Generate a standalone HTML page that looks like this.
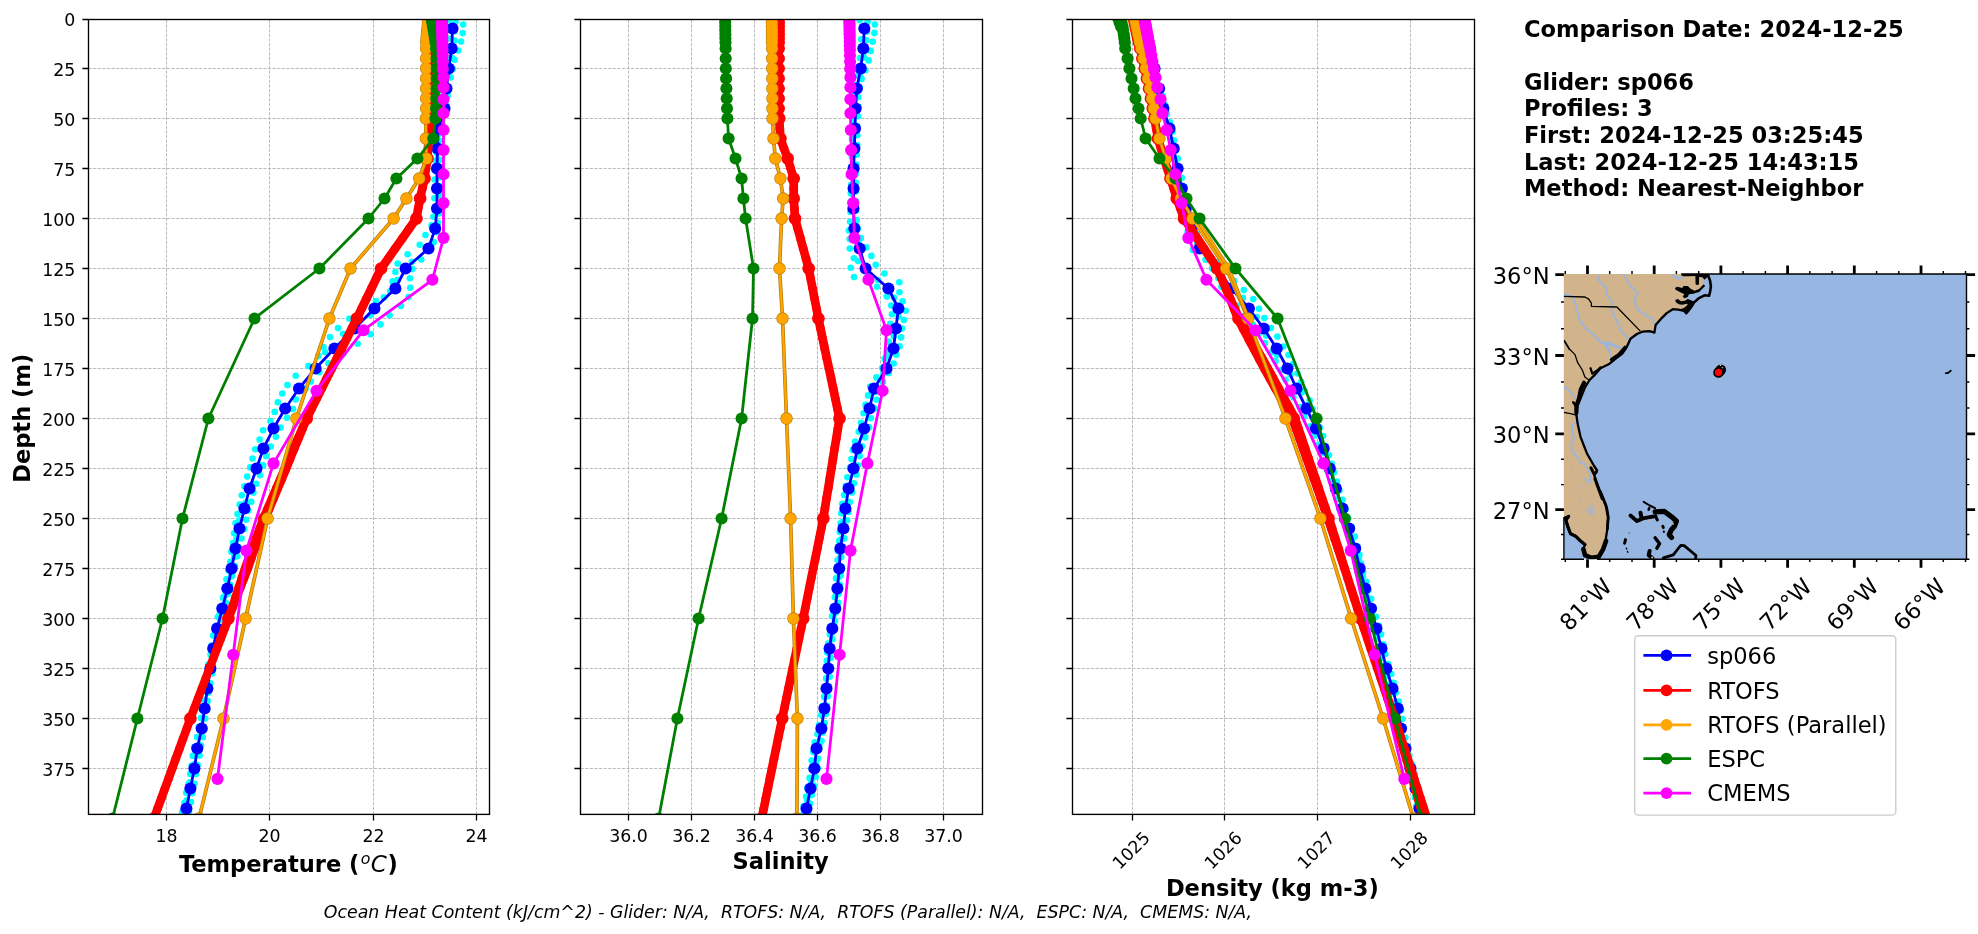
<!DOCTYPE html>
<html><head><meta charset="utf-8"><title>Glider comparison</title><style>html,body{margin:0;padding:0;background:#fff}svg{display:block;will-change:transform}</style></head><body>
<svg width="1978" height="934" viewBox="0 0 1978 934" font-family="'DejaVu Sans', 'Liberation Sans', sans-serif">
<rect width="1978" height="934" fill="#fff"/>
<defs>
<clipPath id="c0"><rect x="88.5" y="19.5" width="401.0" height="794.9"/></clipPath>
<clipPath id="c1"><rect x="580.5" y="19.5" width="402.0" height="794.9"/></clipPath>
<clipPath id="c2"><rect x="1072.5" y="19.5" width="402.0" height="794.9"/></clipPath>
</defs>
<g clip-path="url(#c0)">
<path d="M166.5 814.4V19.5M269.5 814.4V19.5M373.5 814.4V19.5M476.5 814.4V19.5M88.5 68.5H489.5M88.5 118.5H489.5M88.5 168.5H489.5M88.5 218.5H489.5M88.5 268.5H489.5M88.5 318.5H489.5M88.5 368.5H489.5M88.5 418.5H489.5M88.5 468.5H489.5M88.5 518.5H489.5M88.5 568.5H489.5M88.5 618.5H489.5M88.5 668.5H489.5M88.5 718.5H489.5M88.5 768.5H489.5" stroke="#b0b0b0" stroke-width="0.87" stroke-dasharray="3.21 1.39" fill="none"/>
<g fill="#00ffff"><circle cx="463.2" cy="24.5" r="3.3"/><circle cx="462.7" cy="33.1" r="3.3"/><circle cx="461.1" cy="41.6" r="3.3"/><circle cx="458.2" cy="50.6" r="3.3"/><circle cx="454.6" cy="59.8" r="3.3"/><circle cx="452.9" cy="68.9" r="3.3"/><circle cx="450.7" cy="77.5" r="3.3"/><circle cx="448.0" cy="87.2" r="3.3"/><circle cx="447.7" cy="95.9" r="3.3"/><circle cx="446.7" cy="105.9" r="3.3"/><circle cx="444.8" cy="114.9" r="3.3"/><circle cx="442.1" cy="123.4" r="3.3"/><circle cx="439.7" cy="132.2" r="3.3"/><circle cx="439.6" cy="140.8" r="3.3"/><circle cx="439.2" cy="150.5" r="3.3"/><circle cx="439.5" cy="159.9" r="3.3"/><circle cx="439.3" cy="168.9" r="3.3"/><circle cx="438.8" cy="177.4" r="3.3"/><circle cx="439.5" cy="186.1" r="3.3"/><circle cx="439.2" cy="195.2" r="3.3"/><circle cx="439.4" cy="204.5" r="3.3"/><circle cx="439.3" cy="213.4" r="3.3"/><circle cx="438.0" cy="222.9" r="3.3"/><circle cx="436.7" cy="232.2" r="3.3"/><circle cx="433.8" cy="242.0" r="3.3"/><circle cx="429.6" cy="250.9" r="3.3"/><circle cx="421.2" cy="259.5" r="3.3"/><circle cx="412.3" cy="269.1" r="3.3"/><circle cx="409.9" cy="278.3" r="3.3"/><circle cx="410.2" cy="287.7" r="3.3"/><circle cx="408.5" cy="297.1" r="3.3"/><circle cx="401.0" cy="306.0" r="3.3"/><circle cx="389.6" cy="315.3" r="3.3"/><circle cx="380.5" cy="324.4" r="3.3"/><circle cx="370.7" cy="334.3" r="3.3"/><circle cx="357.7" cy="343.8" r="3.3"/><circle cx="343.6" cy="353.3" r="3.3"/><circle cx="328.4" cy="363.3" r="3.3"/><circle cx="319.3" cy="372.2" r="3.3"/><circle cx="310.9" cy="381.6" r="3.3"/><circle cx="302.6" cy="390.8" r="3.3"/><circle cx="295.7" cy="399.4" r="3.3"/><circle cx="293.0" cy="409.0" r="3.3"/><circle cx="287.1" cy="417.8" r="3.3"/><circle cx="280.6" cy="427.6" r="3.3"/><circle cx="275.9" cy="436.7" r="3.3"/><circle cx="270.8" cy="446.5" r="3.3"/><circle cx="266.3" cy="456.3" r="3.3"/><circle cx="263.1" cy="465.4" r="3.3"/><circle cx="260.1" cy="475.2" r="3.3"/><circle cx="256.1" cy="483.8" r="3.3"/><circle cx="253.4" cy="492.6" r="3.3"/><circle cx="251.2" cy="501.8" r="3.3"/><circle cx="248.2" cy="510.6" r="3.3"/><circle cx="246.2" cy="519.7" r="3.3"/><circle cx="244.3" cy="529.0" r="3.3"/><circle cx="241.5" cy="538.5" r="3.3"/><circle cx="239.3" cy="547.9" r="3.3"/><circle cx="237.4" cy="556.3" r="3.3"/><circle cx="235.0" cy="566.0" r="3.3"/><circle cx="232.4" cy="575.7" r="3.3"/><circle cx="230.2" cy="584.7" r="3.3"/><circle cx="227.9" cy="594.1" r="3.3"/><circle cx="225.8" cy="602.6" r="3.3"/><circle cx="223.7" cy="611.3" r="3.3"/><circle cx="221.2" cy="619.8" r="3.3"/><circle cx="219.0" cy="628.4" r="3.3"/><circle cx="217.2" cy="637.4" r="3.3"/><circle cx="215.8" cy="647.2" r="3.3"/><circle cx="214.2" cy="655.8" r="3.3"/><circle cx="213.0" cy="664.8" r="3.3"/><circle cx="212.3" cy="673.4" r="3.3"/><circle cx="210.4" cy="683.4" r="3.3"/><circle cx="208.6" cy="692.6" r="3.3"/><circle cx="207.7" cy="701.1" r="3.3"/><circle cx="207.0" cy="709.9" r="3.3"/><circle cx="205.1" cy="718.6" r="3.3"/><circle cx="204.5" cy="728.5" r="3.3"/><circle cx="202.8" cy="737.2" r="3.3"/><circle cx="201.0" cy="745.6" r="3.3"/><circle cx="199.6" cy="755.6" r="3.3"/><circle cx="197.7" cy="765.1" r="3.3"/><circle cx="195.9" cy="774.1" r="3.3"/><circle cx="194.4" cy="783.7" r="3.3"/><circle cx="192.3" cy="793.3" r="3.3"/><circle cx="191.0" cy="802.1" r="3.3"/><circle cx="189.0" cy="812.1" r="3.3"/><circle cx="455.4" cy="21.7" r="3.3"/><circle cx="454.6" cy="31.3" r="3.3"/><circle cx="454.6" cy="40.5" r="3.3"/><circle cx="453.4" cy="48.9" r="3.3"/><circle cx="451.9" cy="57.8" r="3.3"/><circle cx="450.8" cy="67.3" r="3.3"/><circle cx="448.6" cy="76.4" r="3.3"/><circle cx="445.2" cy="86.4" r="3.3"/><circle cx="443.5" cy="95.4" r="3.3"/><circle cx="442.6" cy="104.1" r="3.3"/><circle cx="441.1" cy="112.9" r="3.3"/><circle cx="438.2" cy="122.7" r="3.3"/><circle cx="436.1" cy="131.9" r="3.3"/><circle cx="435.1" cy="141.5" r="3.3"/><circle cx="435.6" cy="151.0" r="3.3"/><circle cx="435.2" cy="160.6" r="3.3"/><circle cx="434.4" cy="169.8" r="3.3"/><circle cx="434.5" cy="179.5" r="3.3"/><circle cx="435.1" cy="189.2" r="3.3"/><circle cx="434.5" cy="198.2" r="3.3"/><circle cx="434.8" cy="208.1" r="3.3"/><circle cx="433.4" cy="216.8" r="3.3"/><circle cx="431.5" cy="225.4" r="3.3"/><circle cx="425.5" cy="235.1" r="3.3"/><circle cx="419.7" cy="244.8" r="3.3"/><circle cx="407.6" cy="254.3" r="3.3"/><circle cx="397.7" cy="263.6" r="3.3"/><circle cx="395.4" cy="272.0" r="3.3"/><circle cx="392.6" cy="281.4" r="3.3"/><circle cx="390.2" cy="291.3" r="3.3"/><circle cx="375.9" cy="301.1" r="3.3"/><circle cx="360.4" cy="309.9" r="3.3"/><circle cx="349.3" cy="318.7" r="3.3"/><circle cx="338.0" cy="328.1" r="3.3"/><circle cx="330.0" cy="337.1" r="3.3"/><circle cx="323.5" cy="347.0" r="3.3"/><circle cx="318.3" cy="356.1" r="3.3"/><circle cx="308.4" cy="366.0" r="3.3"/><circle cx="295.7" cy="375.8" r="3.3"/><circle cx="287.4" cy="385.1" r="3.3"/><circle cx="282.3" cy="393.5" r="3.3"/><circle cx="277.8" cy="402.2" r="3.3"/><circle cx="274.7" cy="411.9" r="3.3"/><circle cx="270.4" cy="421.0" r="3.3"/><circle cx="263.1" cy="430.3" r="3.3"/><circle cx="259.6" cy="439.6" r="3.3"/><circle cx="255.3" cy="449.2" r="3.3"/><circle cx="252.5" cy="458.5" r="3.3"/><circle cx="250.2" cy="467.4" r="3.3"/><circle cx="247.1" cy="476.6" r="3.3"/><circle cx="244.4" cy="486.2" r="3.3"/><circle cx="241.8" cy="495.3" r="3.3"/><circle cx="239.7" cy="504.5" r="3.3"/><circle cx="237.5" cy="514.0" r="3.3"/><circle cx="235.6" cy="523.3" r="3.3"/><circle cx="234.1" cy="533.2" r="3.3"/><circle cx="233.0" cy="543.0" r="3.3"/><circle cx="231.4" cy="551.8" r="3.3"/><circle cx="230.4" cy="561.7" r="3.3"/><circle cx="228.4" cy="570.3" r="3.3"/><circle cx="226.5" cy="579.4" r="3.3"/><circle cx="224.7" cy="588.2" r="3.3"/><circle cx="223.0" cy="597.7" r="3.3"/><circle cx="219.9" cy="607.5" r="3.3"/><circle cx="217.9" cy="617.1" r="3.3"/><circle cx="215.9" cy="625.7" r="3.3"/><circle cx="213.1" cy="635.6" r="3.3"/><circle cx="211.4" cy="645.6" r="3.3"/><circle cx="210.5" cy="654.7" r="3.3"/><circle cx="208.4" cy="664.5" r="3.3"/><circle cx="207.4" cy="673.6" r="3.3"/><circle cx="205.8" cy="682.5" r="3.3"/><circle cx="205.0" cy="691.4" r="3.3"/><circle cx="203.6" cy="699.8" r="3.3"/><circle cx="201.8" cy="709.0" r="3.3"/><circle cx="200.9" cy="717.9" r="3.3"/><circle cx="198.8" cy="727.1" r="3.3"/><circle cx="197.1" cy="737.1" r="3.3"/><circle cx="194.2" cy="747.0" r="3.3"/><circle cx="192.8" cy="755.9" r="3.3"/><circle cx="191.6" cy="765.5" r="3.3"/><circle cx="190.2" cy="774.1" r="3.3"/><circle cx="188.6" cy="784.0" r="3.3"/><circle cx="186.2" cy="792.8" r="3.3"/><circle cx="184.6" cy="802.7" r="3.3"/><circle cx="182.2" cy="812.2" r="3.3"/><circle cx="448.7" cy="20.1" r="3.3"/><circle cx="448.7" cy="38.5" r="3.3"/><circle cx="448.1" cy="58.0" r="3.3"/><circle cx="445.7" cy="77.2" r="3.3"/><circle cx="444.8" cy="96.5" r="3.3"/><circle cx="442.7" cy="115.8" r="3.3"/><circle cx="438.9" cy="134.1" r="3.3"/><circle cx="436.9" cy="153.6" r="3.3"/><circle cx="436.2" cy="171.4" r="3.3"/><circle cx="436.2" cy="189.5" r="3.3"/><circle cx="437.3" cy="207.4" r="3.3"/><circle cx="437.0" cy="225.4" r="3.3"/><circle cx="432.0" cy="243.6" r="3.3"/><circle cx="411.9" cy="261.8" r="3.3"/><circle cx="397.7" cy="279.8" r="3.3"/><circle cx="383.9" cy="297.4" r="3.3"/><circle cx="370.5" cy="315.0" r="3.3"/><circle cx="343.1" cy="333.7" r="3.3"/><circle cx="325.2" cy="352.3" r="3.3"/><circle cx="316.3" cy="370.1" r="3.3"/><circle cx="305.6" cy="388.6" r="3.3"/><circle cx="287.4" cy="407.8" r="3.3"/><circle cx="273.1" cy="426.5" r="3.3"/><circle cx="262.9" cy="446.0" r="3.3"/><circle cx="259.5" cy="465.3" r="3.3"/><circle cx="253.5" cy="484.2" r="3.3"/><circle cx="245.7" cy="502.5" r="3.3"/><circle cx="239.3" cy="520.3" r="3.3"/><circle cx="236.4" cy="539.4" r="3.3"/><circle cx="234.2" cy="557.3" r="3.3"/><circle cx="231.1" cy="576.6" r="3.3"/><circle cx="225.0" cy="595.5" r="3.3"/><circle cx="219.8" cy="613.6" r="3.3"/><circle cx="215.8" cy="632.1" r="3.3"/><circle cx="213.5" cy="650.6" r="3.3"/><circle cx="211.2" cy="670.2" r="3.3"/><circle cx="206.4" cy="688.9" r="3.3"/><circle cx="203.6" cy="708.4" r="3.3"/><circle cx="201.7" cy="726.7" r="3.3"/><circle cx="199.2" cy="745.1" r="3.3"/><circle cx="195.0" cy="763.7" r="3.3"/><circle cx="189.9" cy="782.3" r="3.3"/><circle cx="186.8" cy="800.4" r="3.3"/></g>
<polyline points="452.5,28.5 451.7,48.5 448.8,68.5 446.5,88.5 444.5,108.5 438.2,128.5 437.5,148.5 437.0,168.5 437.0,188.5 437.0,208.5 435.2,228.5 428.5,248.5 405.6,268.5 395.4,288.5 374.4,308.5 354.7,328.5 334.4,348.5 315.6,368.5 299.0,388.5 285.2,408.5 273.5,428.5 263.4,448.5 256.5,468.5 249.5,488.5 244.4,508.5 239.5,528.5 235.5,548.5 231.6,568.5 227.4,588.5 222.3,608.5 217.1,628.5 213.2,648.5 210.4,668.5 207.4,688.5 204.6,708.5 201.7,728.5 197.3,748.5 194.4,768.5 190.4,788.5 186.4,808.5" fill="none" stroke="#0000ff" stroke-width="2.8" stroke-linejoin="round"/>
<g fill="#0000ff"><circle cx="452.5" cy="28.5" r="6.05"/><circle cx="451.7" cy="48.5" r="6.05"/><circle cx="448.8" cy="68.5" r="6.05"/><circle cx="446.5" cy="88.5" r="6.05"/><circle cx="444.5" cy="108.5" r="6.05"/><circle cx="438.2" cy="128.5" r="6.05"/><circle cx="437.5" cy="148.5" r="6.05"/><circle cx="437.0" cy="168.5" r="6.05"/><circle cx="437.0" cy="188.5" r="6.05"/><circle cx="437.0" cy="208.5" r="6.05"/><circle cx="435.2" cy="228.5" r="6.05"/><circle cx="428.5" cy="248.5" r="6.05"/><circle cx="405.6" cy="268.5" r="6.05"/><circle cx="395.4" cy="288.5" r="6.05"/><circle cx="374.4" cy="308.5" r="6.05"/><circle cx="354.7" cy="328.5" r="6.05"/><circle cx="334.4" cy="348.5" r="6.05"/><circle cx="315.6" cy="368.5" r="6.05"/><circle cx="299.0" cy="388.5" r="6.05"/><circle cx="285.2" cy="408.5" r="6.05"/><circle cx="273.5" cy="428.5" r="6.05"/><circle cx="263.4" cy="448.5" r="6.05"/><circle cx="256.5" cy="468.5" r="6.05"/><circle cx="249.5" cy="488.5" r="6.05"/><circle cx="244.4" cy="508.5" r="6.05"/><circle cx="239.5" cy="528.5" r="6.05"/><circle cx="235.5" cy="548.5" r="6.05"/><circle cx="231.6" cy="568.5" r="6.05"/><circle cx="227.4" cy="588.5" r="6.05"/><circle cx="222.3" cy="608.5" r="6.05"/><circle cx="217.1" cy="628.5" r="6.05"/><circle cx="213.2" cy="648.5" r="6.05"/><circle cx="210.4" cy="668.5" r="6.05"/><circle cx="207.4" cy="688.5" r="6.05"/><circle cx="204.6" cy="708.5" r="6.05"/><circle cx="201.7" cy="728.5" r="6.05"/><circle cx="197.3" cy="748.5" r="6.05"/><circle cx="194.4" cy="768.5" r="6.05"/><circle cx="190.4" cy="788.5" r="6.05"/><circle cx="186.4" cy="808.5" r="6.05"/></g>
<g fill="none" stroke="#ff0000" stroke-linecap="round"><path d="M428.9 18.5L428.9 28.5" stroke-width="8.70"/><path d="M428.9 28.5L428.9 38.5" stroke-width="8.70"/><path d="M428.9 38.5L428.9 48.5" stroke-width="8.70"/><path d="M428.9 48.5L428.9 58.5" stroke-width="8.70"/><path d="M428.9 58.5L428.9 68.5" stroke-width="8.70"/><path d="M428.9 68.5L428.9 78.5" stroke-width="8.70"/><path d="M428.9 78.5L428.9 88.5" stroke-width="8.70"/><path d="M428.9 88.5L428.9 98.5" stroke-width="8.70"/><path d="M428.9 98.5L428.9 108.5" stroke-width="8.70"/><path d="M428.9 108.5L428.9 118.5" stroke-width="8.70"/><path d="M428.9 118.5L428.8 128.5" stroke-width="8.70"/><path d="M428.8 128.5L428.6 138.5" stroke-width="8.70"/><path d="M428.6 138.5L428.0 148.5" stroke-width="8.70"/><path d="M428.0 148.5L427.4 158.5" stroke-width="8.70"/><path d="M427.4 158.5L425.9 168.5" stroke-width="8.70"/><path d="M425.9 168.5L424.5 178.5" stroke-width="8.70"/><path d="M424.5 178.5L422.3 188.5" stroke-width="8.70"/><path d="M422.3 188.5L420.1 198.5" stroke-width="8.70"/><path d="M420.1 198.5L418.2 208.5" stroke-width="8.70"/><path d="M418.2 208.5L416.4 218.5" stroke-width="8.70"/><path d="M416.4 218.5L409.3 228.5" stroke-width="8.70"/><path d="M409.3 228.5L402.3 238.5" stroke-width="8.70"/><path d="M402.3 238.5L395.2 248.5" stroke-width="8.70"/><path d="M395.2 248.5L388.2 258.5" stroke-width="8.70"/><path d="M388.2 258.5L381.1 268.5" stroke-width="8.70"/><path d="M381.1 268.5L376.2 278.5" stroke-width="8.70"/><path d="M376.2 278.5L371.4 288.5" stroke-width="8.70"/><path d="M371.4 288.5L366.5 298.5" stroke-width="8.70"/><path d="M366.5 298.5L361.7 308.5" stroke-width="8.70"/><path d="M361.7 308.5L356.8 318.5" stroke-width="8.70"/><path d="M356.8 318.5L351.8 328.5" stroke-width="8.70"/><path d="M351.8 328.5L346.8 338.5" stroke-width="8.70"/><path d="M346.8 338.5L341.8 348.5" stroke-width="8.70"/><path d="M341.8 348.5L336.8 358.5" stroke-width="8.70"/><path d="M336.8 358.5L331.8 368.5" stroke-width="8.70"/><path d="M331.8 368.5L326.7 378.5" stroke-width="8.70"/><path d="M326.7 378.5L321.7 388.5" stroke-width="8.70"/><path d="M321.7 388.5L316.7 398.5" stroke-width="8.70"/><path d="M316.7 398.5L311.7 408.5" stroke-width="8.70"/><path d="M311.7 408.5L306.7 418.5" stroke-width="8.70"/><path d="M306.7 418.5L302.5 428.5" stroke-width="8.81"/><path d="M302.5 428.5L298.2 438.5" stroke-width="9.03"/><path d="M298.2 438.5L294.0 448.5" stroke-width="9.25"/><path d="M294.0 448.5L289.7 458.5" stroke-width="9.47"/><path d="M289.7 458.5L285.5 468.5" stroke-width="9.69"/><path d="M285.5 468.5L281.3 478.5" stroke-width="9.84"/><path d="M281.3 478.5L277.0 488.5" stroke-width="9.92"/><path d="M277.0 488.5L272.8 498.5" stroke-width="10.00"/><path d="M272.8 498.5L268.5 508.5" stroke-width="10.08"/><path d="M268.5 508.5L264.3 518.5" stroke-width="10.16"/><path d="M264.3 518.5L260.7 528.5" stroke-width="10.32"/><path d="M260.7 528.5L257.1 538.5" stroke-width="10.56"/><path d="M257.1 538.5L253.5 548.5" stroke-width="10.80"/><path d="M253.5 548.5L249.9 558.5" stroke-width="11.04"/><path d="M249.9 558.5L246.4 568.5" stroke-width="11.28"/><path d="M246.4 568.5L242.8 578.5" stroke-width="11.05"/><path d="M242.8 578.5L239.2 588.5" stroke-width="10.35"/><path d="M239.2 588.5L235.6 598.5" stroke-width="9.65"/><path d="M235.6 598.5L232.0 608.5" stroke-width="9.20"/><path d="M232.0 608.5L228.4 618.5" stroke-width="9.00"/><path d="M228.4 618.5L224.6 628.5" stroke-width="8.85"/><path d="M224.6 628.5L220.8 638.5" stroke-width="8.75"/><path d="M220.8 638.5L217.0 648.5" stroke-width="8.65"/><path d="M217.0 648.5L213.2 658.5" stroke-width="8.55"/><path d="M213.2 658.5L209.4 668.5" stroke-width="8.45"/><path d="M209.4 668.5L205.6 678.5" stroke-width="8.35"/><path d="M205.6 678.5L201.8 688.5" stroke-width="8.33"/><path d="M201.8 688.5L198.0 698.5" stroke-width="8.38"/><path d="M198.0 698.5L194.2 708.5" stroke-width="8.43"/><path d="M194.2 708.5L190.4 718.5" stroke-width="8.47"/><path d="M190.4 718.5L186.8 728.5" stroke-width="8.53"/><path d="M186.8 728.5L183.1 738.5" stroke-width="8.57"/><path d="M183.1 738.5L179.5 748.5" stroke-width="8.61"/><path d="M179.5 748.5L175.8 758.5" stroke-width="8.62"/><path d="M175.8 758.5L172.2 768.5" stroke-width="8.63"/><path d="M172.2 768.5L168.6 778.5" stroke-width="8.64"/><path d="M168.6 778.5L164.9 788.5" stroke-width="8.66"/><path d="M164.9 788.5L161.3 798.5" stroke-width="8.67"/><path d="M161.3 798.5L157.6 808.5" stroke-width="8.68"/><path d="M157.6 808.5L154.0 818.5" stroke-width="8.69"/></g>
<g fill="#ff0000"><circle cx="428.9" cy="18.5" r="6.35"/><circle cx="428.9" cy="22.5" r="6.35"/><circle cx="428.9" cy="26.5" r="6.35"/><circle cx="428.9" cy="30.5" r="6.35"/><circle cx="428.9" cy="34.5" r="6.35"/><circle cx="428.9" cy="38.5" r="6.35"/><circle cx="428.9" cy="42.5" r="6.35"/><circle cx="428.9" cy="48.5" r="6.35"/><circle cx="428.9" cy="58.5" r="6.35"/><circle cx="428.9" cy="68.5" r="6.35"/><circle cx="428.9" cy="78.5" r="6.35"/><circle cx="428.9" cy="88.5" r="6.35"/><circle cx="428.9" cy="98.5" r="6.35"/><circle cx="428.9" cy="108.5" r="6.35"/><circle cx="428.9" cy="118.5" r="6.35"/><circle cx="428.6" cy="138.5" r="6.35"/><circle cx="427.4" cy="158.5" r="6.35"/><circle cx="424.5" cy="178.5" r="6.35"/><circle cx="420.1" cy="198.5" r="6.35"/><circle cx="416.4" cy="218.5" r="6.35"/><circle cx="381.1" cy="268.5" r="6.35"/><circle cx="356.8" cy="318.5" r="6.35"/><circle cx="306.7" cy="418.5" r="6.35"/><circle cx="264.3" cy="518.5" r="6.35"/><circle cx="228.4" cy="618.5" r="6.35"/><circle cx="190.4" cy="718.5" r="6.35"/><circle cx="154.0" cy="818.5" r="6.35"/></g>
<polyline points="428.3,18.5 428.0,22.5 427.6,26.5 427.2,30.5 426.8,34.5 426.4,38.5 426.2,42.5 426.1,48.5 426.1,58.5 426.1,68.5 426.1,78.5 426.1,88.5 426.1,98.5 426.1,108.5 425.8,118.5 425.8,138.5 426.4,158.5 419.2,178.5 406.4,198.5 393.6,218.5 350.5,268.5 329.4,318.5 296.4,418.5 267.6,518.5 245.6,618.5 223.5,718.5 199.0,818.5" fill="none" stroke="#b37a0c" stroke-width="3.7" stroke-linejoin="round"/>
<polyline points="428.3,18.5 428.0,22.5 427.6,26.5 427.2,30.5 426.8,34.5 426.4,38.5 426.2,42.5 426.1,48.5 426.1,58.5 426.1,68.5 426.1,78.5 426.1,88.5 426.1,98.5 426.1,108.5 425.8,118.5 425.8,138.5 426.4,158.5 419.2,178.5 406.4,198.5 393.6,218.5 350.5,268.5 329.4,318.5 296.4,418.5 267.6,518.5 245.6,618.5 223.5,718.5 199.0,818.5" fill="none" stroke="#ffa500" stroke-width="2.3" stroke-linejoin="round"/>
<g fill="#b9800f"><circle cx="428.3" cy="18.5" r="6.2"/><circle cx="428.0" cy="22.5" r="6.2"/><circle cx="427.6" cy="26.5" r="6.2"/><circle cx="427.2" cy="30.5" r="6.2"/><circle cx="426.8" cy="34.5" r="6.2"/><circle cx="426.4" cy="38.5" r="6.2"/><circle cx="426.2" cy="42.5" r="6.2"/><circle cx="426.1" cy="48.5" r="6.2"/><circle cx="426.1" cy="58.5" r="6.2"/><circle cx="426.1" cy="68.5" r="6.2"/><circle cx="426.1" cy="78.5" r="6.2"/><circle cx="426.1" cy="88.5" r="6.2"/><circle cx="426.1" cy="98.5" r="6.2"/><circle cx="426.1" cy="108.5" r="6.2"/><circle cx="425.8" cy="118.5" r="6.2"/><circle cx="425.8" cy="138.5" r="6.2"/><circle cx="426.4" cy="158.5" r="6.2"/><circle cx="419.2" cy="178.5" r="6.2"/><circle cx="406.4" cy="198.5" r="6.2"/><circle cx="393.6" cy="218.5" r="6.2"/><circle cx="350.5" cy="268.5" r="6.2"/><circle cx="329.4" cy="318.5" r="6.2"/><circle cx="296.4" cy="418.5" r="6.2"/><circle cx="267.6" cy="518.5" r="6.2"/><circle cx="245.6" cy="618.5" r="6.2"/><circle cx="223.5" cy="718.5" r="6.2"/><circle cx="199.0" cy="818.5" r="6.2"/></g>
<g fill="#ffa500"><circle cx="428.3" cy="18.5" r="5.55"/><circle cx="428.0" cy="22.5" r="5.55"/><circle cx="427.6" cy="26.5" r="5.55"/><circle cx="427.2" cy="30.5" r="5.55"/><circle cx="426.8" cy="34.5" r="5.55"/><circle cx="426.4" cy="38.5" r="5.55"/><circle cx="426.2" cy="42.5" r="5.55"/><circle cx="426.1" cy="48.5" r="5.55"/><circle cx="426.1" cy="58.5" r="5.55"/><circle cx="426.1" cy="68.5" r="5.55"/><circle cx="426.1" cy="78.5" r="5.55"/><circle cx="426.1" cy="88.5" r="5.55"/><circle cx="426.1" cy="98.5" r="5.55"/><circle cx="426.1" cy="108.5" r="5.55"/><circle cx="425.8" cy="118.5" r="5.55"/><circle cx="425.8" cy="138.5" r="5.55"/><circle cx="426.4" cy="158.5" r="5.55"/><circle cx="419.2" cy="178.5" r="5.55"/><circle cx="406.4" cy="198.5" r="5.55"/><circle cx="393.6" cy="218.5" r="5.55"/><circle cx="350.5" cy="268.5" r="5.55"/><circle cx="329.4" cy="318.5" r="5.55"/><circle cx="296.4" cy="418.5" r="5.55"/><circle cx="267.6" cy="518.5" r="5.55"/><circle cx="245.6" cy="618.5" r="5.55"/><circle cx="223.5" cy="718.5" r="5.55"/><circle cx="199.0" cy="818.5" r="5.55"/></g>
<polyline points="431.5,18.5 432.2,22.5 432.9,26.5 433.6,30.5 434.3,34.5 435.0,38.5 435.5,42.5 436.0,48.5 436.5,58.5 436.7,68.5 436.7,78.5 436.5,88.5 436.3,98.5 436.0,108.5 435.4,118.5 433.2,138.5 417.4,158.5 396.4,178.5 384.5,198.5 368.5,218.5 319.4,268.5 254.5,318.5 208.4,418.5 182.5,518.5 162.5,618.5 137.4,718.5 112.5,818.5" fill="none" stroke="#008000" stroke-width="2.8" stroke-linejoin="round"/>
<g fill="#008000"><circle cx="431.5" cy="18.5" r="6.05"/><circle cx="432.2" cy="22.5" r="6.05"/><circle cx="432.9" cy="26.5" r="6.05"/><circle cx="433.6" cy="30.5" r="6.05"/><circle cx="434.3" cy="34.5" r="6.05"/><circle cx="435.0" cy="38.5" r="6.05"/><circle cx="435.5" cy="42.5" r="6.05"/><circle cx="436.0" cy="48.5" r="6.05"/><circle cx="436.5" cy="58.5" r="6.05"/><circle cx="436.7" cy="68.5" r="6.05"/><circle cx="436.7" cy="78.5" r="6.05"/><circle cx="436.5" cy="88.5" r="6.05"/><circle cx="436.3" cy="98.5" r="6.05"/><circle cx="436.0" cy="108.5" r="6.05"/><circle cx="435.4" cy="118.5" r="6.05"/><circle cx="433.2" cy="138.5" r="6.05"/><circle cx="417.4" cy="158.5" r="6.05"/><circle cx="396.4" cy="178.5" r="6.05"/><circle cx="384.5" cy="198.5" r="6.05"/><circle cx="368.5" cy="218.5" r="6.05"/><circle cx="319.4" cy="268.5" r="6.05"/><circle cx="254.5" cy="318.5" r="6.05"/><circle cx="208.4" cy="418.5" r="6.05"/><circle cx="182.5" cy="518.5" r="6.05"/><circle cx="162.5" cy="618.5" r="6.05"/><circle cx="137.4" cy="718.5" r="6.05"/><circle cx="112.5" cy="818.5" r="6.05"/></g>
<polyline points="442.0,19.5 442.0,21.6 442.1,23.8 442.1,26.1 442.1,28.6 442.2,31.4 442.2,34.3 442.3,37.6 442.4,41.3 442.4,45.4 442.5,50.1 442.6,55.5 442.7,61.7 442.8,68.9 443.5,77.4 443.5,87.3 443.5,99.2 443.5,113.2 443.5,130.0 443.5,150.1 443.5,174.2 443.5,203.1 443.5,237.9 432.4,279.8 363.5,330.2 316.5,390.7 273.5,463.4 246.4,550.6 233.2,654.7 217.5,778.9" fill="none" stroke="#ff00ff" stroke-width="2.8" stroke-linejoin="round"/>
<g fill="#ff00ff"><circle cx="442.0" cy="19.5" r="6.05"/><circle cx="442.0" cy="21.6" r="6.05"/><circle cx="442.1" cy="23.8" r="6.05"/><circle cx="442.1" cy="26.1" r="6.05"/><circle cx="442.1" cy="28.6" r="6.05"/><circle cx="442.2" cy="31.4" r="6.05"/><circle cx="442.2" cy="34.3" r="6.05"/><circle cx="442.3" cy="37.6" r="6.05"/><circle cx="442.4" cy="41.3" r="6.05"/><circle cx="442.4" cy="45.4" r="6.05"/><circle cx="442.5" cy="50.1" r="6.05"/><circle cx="442.6" cy="55.5" r="6.05"/><circle cx="442.7" cy="61.7" r="6.05"/><circle cx="442.8" cy="68.9" r="6.05"/><circle cx="443.5" cy="77.4" r="6.05"/><circle cx="443.5" cy="87.3" r="6.05"/><circle cx="443.5" cy="99.2" r="6.05"/><circle cx="443.5" cy="113.2" r="6.05"/><circle cx="443.5" cy="130.0" r="6.05"/><circle cx="443.5" cy="150.1" r="6.05"/><circle cx="443.5" cy="174.2" r="6.05"/><circle cx="443.5" cy="203.1" r="6.05"/><circle cx="443.5" cy="237.9" r="6.05"/><circle cx="432.4" cy="279.8" r="6.05"/><circle cx="363.5" cy="330.2" r="6.05"/><circle cx="316.5" cy="390.7" r="6.05"/><circle cx="273.5" cy="463.4" r="6.05"/><circle cx="246.4" cy="550.6" r="6.05"/><circle cx="233.2" cy="654.7" r="6.05"/><circle cx="217.5" cy="778.9" r="6.05"/></g>
</g>
<rect x="88.5" y="19.5" width="401.0" height="794.9" fill="none" stroke="#000" stroke-width="1.35"/>
<path d="M166.5 814.4v6.1M269.5 814.4v6.1M373.5 814.4v6.1M476.5 814.4v6.1M88.5 19.5h-6.1M88.5 68.5h-6.1M88.5 118.5h-6.1M88.5 168.5h-6.1M88.5 218.5h-6.1M88.5 268.5h-6.1M88.5 318.5h-6.1M88.5 368.5h-6.1M88.5 418.5h-6.1M88.5 468.5h-6.1M88.5 518.5h-6.1M88.5 568.5h-6.1M88.5 618.5h-6.1M88.5 668.5h-6.1M88.5 718.5h-6.1M88.5 768.5h-6.1" stroke="#000" stroke-width="1.3" fill="none"/>
<g font-size="17.36" text-anchor="middle"><text x="166.5" y="842">18</text><text x="269.5" y="842">20</text><text x="373.5" y="842">22</text><text x="476.5" y="842">24</text></g>
<g clip-path="url(#c1)">
<path d="M628.5 814.4V19.5M691.5 814.4V19.5M754.5 814.4V19.5M817.5 814.4V19.5M880.5 814.4V19.5M943.5 814.4V19.5M580.5 68.5H982.5M580.5 118.5H982.5M580.5 168.5H982.5M580.5 218.5H982.5M580.5 268.5H982.5M580.5 318.5H982.5M580.5 368.5H982.5M580.5 418.5H982.5M580.5 468.5H982.5M580.5 518.5H982.5M580.5 568.5H982.5M580.5 618.5H982.5M580.5 668.5H982.5M580.5 718.5H982.5M580.5 768.5H982.5" stroke="#b0b0b0" stroke-width="0.87" stroke-dasharray="3.21 1.39" fill="none"/>
<g fill="#00ffff"><circle cx="874.9" cy="24.5" r="3.3"/><circle cx="874.4" cy="32.9" r="3.3"/><circle cx="872.8" cy="41.7" r="3.3"/><circle cx="870.8" cy="50.9" r="3.3"/><circle cx="868.6" cy="60.4" r="3.3"/><circle cx="865.3" cy="70.2" r="3.3"/><circle cx="861.6" cy="79.1" r="3.3"/><circle cx="859.7" cy="87.7" r="3.3"/><circle cx="858.3" cy="97.2" r="3.3"/><circle cx="858.6" cy="106.9" r="3.3"/><circle cx="858.1" cy="116.3" r="3.3"/><circle cx="857.2" cy="126.0" r="3.3"/><circle cx="857.3" cy="135.3" r="3.3"/><circle cx="857.3" cy="145.0" r="3.3"/><circle cx="856.7" cy="154.7" r="3.3"/><circle cx="856.4" cy="164.5" r="3.3"/><circle cx="855.8" cy="174.0" r="3.3"/><circle cx="855.7" cy="182.5" r="3.3"/><circle cx="855.7" cy="191.5" r="3.3"/><circle cx="856.0" cy="201.2" r="3.3"/><circle cx="856.1" cy="210.6" r="3.3"/><circle cx="856.6" cy="220.1" r="3.3"/><circle cx="858.0" cy="228.5" r="3.3"/><circle cx="860.9" cy="238.1" r="3.3"/><circle cx="866.3" cy="247.4" r="3.3"/><circle cx="871.4" cy="255.9" r="3.3"/><circle cx="875.7" cy="264.7" r="3.3"/><circle cx="884.4" cy="273.5" r="3.3"/><circle cx="899.3" cy="282.2" r="3.3"/><circle cx="899.5" cy="292.2" r="3.3"/><circle cx="902.6" cy="301.2" r="3.3"/><circle cx="905.7" cy="310.7" r="3.3"/><circle cx="903.9" cy="320.1" r="3.3"/><circle cx="902.0" cy="328.6" r="3.3"/><circle cx="901.1" cy="337.4" r="3.3"/><circle cx="899.6" cy="346.3" r="3.3"/><circle cx="896.3" cy="354.7" r="3.3"/><circle cx="893.6" cy="363.5" r="3.3"/><circle cx="888.8" cy="373.1" r="3.3"/><circle cx="883.0" cy="381.9" r="3.3"/><circle cx="878.2" cy="391.1" r="3.3"/><circle cx="876.6" cy="399.7" r="3.3"/><circle cx="874.6" cy="408.4" r="3.3"/><circle cx="870.9" cy="418.3" r="3.3"/><circle cx="869.1" cy="427.4" r="3.3"/><circle cx="865.3" cy="437.4" r="3.3"/><circle cx="862.0" cy="446.2" r="3.3"/><circle cx="859.7" cy="456.1" r="3.3"/><circle cx="857.8" cy="465.4" r="3.3"/><circle cx="856.4" cy="474.7" r="3.3"/><circle cx="854.0" cy="483.3" r="3.3"/><circle cx="852.1" cy="492.5" r="3.3"/><circle cx="849.8" cy="502.0" r="3.3"/><circle cx="848.6" cy="511.9" r="3.3"/><circle cx="847.1" cy="520.3" r="3.3"/><circle cx="846.2" cy="529.5" r="3.3"/><circle cx="844.2" cy="538.4" r="3.3"/><circle cx="842.7" cy="547.3" r="3.3"/><circle cx="841.2" cy="557.1" r="3.3"/><circle cx="841.4" cy="566.7" r="3.3"/><circle cx="840.8" cy="575.3" r="3.3"/><circle cx="839.9" cy="584.8" r="3.3"/><circle cx="838.5" cy="593.7" r="3.3"/><circle cx="838.2" cy="602.7" r="3.3"/><circle cx="836.4" cy="612.0" r="3.3"/><circle cx="835.0" cy="621.1" r="3.3"/><circle cx="833.6" cy="629.6" r="3.3"/><circle cx="832.4" cy="639.3" r="3.3"/><circle cx="831.1" cy="649.2" r="3.3"/><circle cx="830.8" cy="658.0" r="3.3"/><circle cx="830.1" cy="666.8" r="3.3"/><circle cx="829.7" cy="676.7" r="3.3"/><circle cx="828.6" cy="686.4" r="3.3"/><circle cx="827.9" cy="696.2" r="3.3"/><circle cx="826.7" cy="705.5" r="3.3"/><circle cx="825.8" cy="714.0" r="3.3"/><circle cx="824.7" cy="723.1" r="3.3"/><circle cx="822.8" cy="732.6" r="3.3"/><circle cx="821.5" cy="741.0" r="3.3"/><circle cx="819.1" cy="749.6" r="3.3"/><circle cx="818.0" cy="758.6" r="3.3"/><circle cx="817.7" cy="768.2" r="3.3"/><circle cx="815.7" cy="777.0" r="3.3"/><circle cx="813.9" cy="785.9" r="3.3"/><circle cx="811.7" cy="794.9" r="3.3"/><circle cx="810.0" cy="803.6" r="3.3"/><circle cx="808.3" cy="813.4" r="3.3"/><circle cx="867.6" cy="21.7" r="3.3"/><circle cx="866.9" cy="31.7" r="3.3"/><circle cx="866.4" cy="40.3" r="3.3"/><circle cx="865.7" cy="48.8" r="3.3"/><circle cx="863.9" cy="57.4" r="3.3"/><circle cx="862.6" cy="66.2" r="3.3"/><circle cx="860.0" cy="76.0" r="3.3"/><circle cx="855.4" cy="85.1" r="3.3"/><circle cx="854.2" cy="94.3" r="3.3"/><circle cx="853.3" cy="103.3" r="3.3"/><circle cx="853.7" cy="112.1" r="3.3"/><circle cx="852.9" cy="120.7" r="3.3"/><circle cx="852.9" cy="130.1" r="3.3"/><circle cx="852.0" cy="138.9" r="3.3"/><circle cx="851.8" cy="147.6" r="3.3"/><circle cx="851.9" cy="156.8" r="3.3"/><circle cx="851.4" cy="166.5" r="3.3"/><circle cx="850.4" cy="175.0" r="3.3"/><circle cx="851.2" cy="184.5" r="3.3"/><circle cx="850.8" cy="193.6" r="3.3"/><circle cx="850.4" cy="202.0" r="3.3"/><circle cx="850.5" cy="211.9" r="3.3"/><circle cx="850.1" cy="221.7" r="3.3"/><circle cx="848.9" cy="230.5" r="3.3"/><circle cx="849.6" cy="239.1" r="3.3"/><circle cx="849.8" cy="248.6" r="3.3"/><circle cx="853.9" cy="258.2" r="3.3"/><circle cx="850.7" cy="267.8" r="3.3"/><circle cx="854.0" cy="277.1" r="3.3"/><circle cx="877.0" cy="286.7" r="3.3"/><circle cx="886.8" cy="296.6" r="3.3"/><circle cx="891.2" cy="305.5" r="3.3"/><circle cx="892.0" cy="314.3" r="3.3"/><circle cx="890.2" cy="323.8" r="3.3"/><circle cx="889.7" cy="332.3" r="3.3"/><circle cx="888.7" cy="341.7" r="3.3"/><circle cx="887.6" cy="350.4" r="3.3"/><circle cx="884.5" cy="358.8" r="3.3"/><circle cx="882.1" cy="368.0" r="3.3"/><circle cx="876.4" cy="377.4" r="3.3"/><circle cx="870.2" cy="386.6" r="3.3"/><circle cx="868.2" cy="395.4" r="3.3"/><circle cx="865.5" cy="404.9" r="3.3"/><circle cx="863.6" cy="413.3" r="3.3"/><circle cx="861.1" cy="422.8" r="3.3"/><circle cx="858.8" cy="431.6" r="3.3"/><circle cx="855.1" cy="441.5" r="3.3"/><circle cx="852.7" cy="450.0" r="3.3"/><circle cx="851.4" cy="459.0" r="3.3"/><circle cx="849.9" cy="467.7" r="3.3"/><circle cx="847.4" cy="477.3" r="3.3"/><circle cx="845.8" cy="486.1" r="3.3"/><circle cx="844.1" cy="495.0" r="3.3"/><circle cx="842.2" cy="503.7" r="3.3"/><circle cx="841.2" cy="513.3" r="3.3"/><circle cx="840.6" cy="523.3" r="3.3"/><circle cx="839.7" cy="532.0" r="3.3"/><circle cx="839.1" cy="541.0" r="3.3"/><circle cx="837.8" cy="551.0" r="3.3"/><circle cx="837.6" cy="560.0" r="3.3"/><circle cx="836.9" cy="569.9" r="3.3"/><circle cx="836.1" cy="578.4" r="3.3"/><circle cx="836.1" cy="587.5" r="3.3"/><circle cx="834.9" cy="597.3" r="3.3"/><circle cx="834.1" cy="607.3" r="3.3"/><circle cx="832.0" cy="616.2" r="3.3"/><circle cx="831.1" cy="626.1" r="3.3"/><circle cx="829.8" cy="634.5" r="3.3"/><circle cx="828.3" cy="643.5" r="3.3"/><circle cx="827.2" cy="652.5" r="3.3"/><circle cx="826.8" cy="660.9" r="3.3"/><circle cx="826.8" cy="669.8" r="3.3"/><circle cx="826.1" cy="678.4" r="3.3"/><circle cx="824.7" cy="687.2" r="3.3"/><circle cx="824.1" cy="696.9" r="3.3"/><circle cx="822.4" cy="706.0" r="3.3"/><circle cx="821.2" cy="715.1" r="3.3"/><circle cx="819.0" cy="725.0" r="3.3"/><circle cx="817.5" cy="734.0" r="3.3"/><circle cx="814.7" cy="742.4" r="3.3"/><circle cx="813.2" cy="752.1" r="3.3"/><circle cx="811.6" cy="760.6" r="3.3"/><circle cx="811.5" cy="769.1" r="3.3"/><circle cx="809.6" cy="777.9" r="3.3"/><circle cx="807.3" cy="787.7" r="3.3"/><circle cx="806.1" cy="796.6" r="3.3"/><circle cx="803.6" cy="806.0" r="3.3"/><circle cx="801.7" cy="815.5" r="3.3"/><circle cx="859.6" cy="20.1" r="3.3"/><circle cx="861.2" cy="39.2" r="3.3"/><circle cx="859.8" cy="58.0" r="3.3"/><circle cx="857.1" cy="75.7" r="3.3"/><circle cx="856.2" cy="94.2" r="3.3"/><circle cx="855.7" cy="113.8" r="3.3"/><circle cx="855.7" cy="131.9" r="3.3"/><circle cx="854.8" cy="150.4" r="3.3"/><circle cx="853.0" cy="168.4" r="3.3"/><circle cx="853.6" cy="187.5" r="3.3"/><circle cx="854.6" cy="206.6" r="3.3"/><circle cx="855.8" cy="224.9" r="3.3"/><circle cx="858.7" cy="243.2" r="3.3"/><circle cx="858.2" cy="261.0" r="3.3"/><circle cx="877.8" cy="280.1" r="3.3"/><circle cx="894.0" cy="297.8" r="3.3"/><circle cx="898.5" cy="316.5" r="3.3"/><circle cx="893.8" cy="336.1" r="3.3"/><circle cx="888.8" cy="355.6" r="3.3"/><circle cx="883.4" cy="373.4" r="3.3"/><circle cx="875.4" cy="392.0" r="3.3"/><circle cx="869.1" cy="410.5" r="3.3"/><circle cx="862.6" cy="428.9" r="3.3"/><circle cx="856.7" cy="447.9" r="3.3"/><circle cx="854.9" cy="467.2" r="3.3"/><circle cx="851.3" cy="485.0" r="3.3"/><circle cx="846.2" cy="503.2" r="3.3"/><circle cx="843.1" cy="521.6" r="3.3"/><circle cx="841.0" cy="539.6" r="3.3"/><circle cx="840.0" cy="557.6" r="3.3"/><circle cx="839.1" cy="577.0" r="3.3"/><circle cx="836.3" cy="595.3" r="3.3"/><circle cx="833.6" cy="614.9" r="3.3"/><circle cx="832.0" cy="632.9" r="3.3"/><circle cx="830.7" cy="651.8" r="3.3"/><circle cx="828.6" cy="669.6" r="3.3"/><circle cx="826.4" cy="688.9" r="3.3"/><circle cx="823.3" cy="708.3" r="3.3"/><circle cx="821.6" cy="726.5" r="3.3"/><circle cx="819.4" cy="744.5" r="3.3"/><circle cx="815.9" cy="763.2" r="3.3"/><circle cx="811.4" cy="781.6" r="3.3"/><circle cx="807.2" cy="800.1" r="3.3"/></g>
<polyline points="864.3,28.5 863.3,48.5 860.7,68.5 856.8,88.5 855.6,108.5 855.0,128.5 854.4,148.5 853.6,168.5 853.6,188.5 853.4,208.5 854.4,228.5 859.6,248.5 865.6,268.5 888.4,288.5 898.4,308.5 895.9,328.5 893.5,348.5 886.5,368.5 874.1,388.5 869.5,408.5 864.1,428.5 857.3,448.5 853.5,468.5 848.6,488.5 845.4,508.5 843.4,528.5 840.4,548.5 839.2,568.5 837.4,588.5 835.3,608.5 832.3,628.5 829.6,648.5 828.3,668.5 826.5,688.5 824.4,708.5 821.4,728.5 816.5,748.5 814.4,768.5 810.5,788.5 806.5,808.5" fill="none" stroke="#0000ff" stroke-width="2.8" stroke-linejoin="round"/>
<g fill="#0000ff"><circle cx="864.3" cy="28.5" r="6.05"/><circle cx="863.3" cy="48.5" r="6.05"/><circle cx="860.7" cy="68.5" r="6.05"/><circle cx="856.8" cy="88.5" r="6.05"/><circle cx="855.6" cy="108.5" r="6.05"/><circle cx="855.0" cy="128.5" r="6.05"/><circle cx="854.4" cy="148.5" r="6.05"/><circle cx="853.6" cy="168.5" r="6.05"/><circle cx="853.6" cy="188.5" r="6.05"/><circle cx="853.4" cy="208.5" r="6.05"/><circle cx="854.4" cy="228.5" r="6.05"/><circle cx="859.6" cy="248.5" r="6.05"/><circle cx="865.6" cy="268.5" r="6.05"/><circle cx="888.4" cy="288.5" r="6.05"/><circle cx="898.4" cy="308.5" r="6.05"/><circle cx="895.9" cy="328.5" r="6.05"/><circle cx="893.5" cy="348.5" r="6.05"/><circle cx="886.5" cy="368.5" r="6.05"/><circle cx="874.1" cy="388.5" r="6.05"/><circle cx="869.5" cy="408.5" r="6.05"/><circle cx="864.1" cy="428.5" r="6.05"/><circle cx="857.3" cy="448.5" r="6.05"/><circle cx="853.5" cy="468.5" r="6.05"/><circle cx="848.6" cy="488.5" r="6.05"/><circle cx="845.4" cy="508.5" r="6.05"/><circle cx="843.4" cy="528.5" r="6.05"/><circle cx="840.4" cy="548.5" r="6.05"/><circle cx="839.2" cy="568.5" r="6.05"/><circle cx="837.4" cy="588.5" r="6.05"/><circle cx="835.3" cy="608.5" r="6.05"/><circle cx="832.3" cy="628.5" r="6.05"/><circle cx="829.6" cy="648.5" r="6.05"/><circle cx="828.3" cy="668.5" r="6.05"/><circle cx="826.5" cy="688.5" r="6.05"/><circle cx="824.4" cy="708.5" r="6.05"/><circle cx="821.4" cy="728.5" r="6.05"/><circle cx="816.5" cy="748.5" r="6.05"/><circle cx="814.4" cy="768.5" r="6.05"/><circle cx="810.5" cy="788.5" r="6.05"/><circle cx="806.5" cy="808.5" r="6.05"/></g>
<g fill="none" stroke="#ff0000" stroke-linecap="round"><path d="M778.6 18.5L778.6 28.5" stroke-width="8.70"/><path d="M778.6 28.5L778.6 38.5" stroke-width="8.70"/><path d="M778.6 38.5L778.6 48.5" stroke-width="8.70"/><path d="M778.6 48.5L778.6 58.5" stroke-width="8.70"/><path d="M778.6 58.5L778.6 68.5" stroke-width="8.70"/><path d="M778.6 68.5L778.6 78.5" stroke-width="8.70"/><path d="M778.6 78.5L778.6 88.5" stroke-width="8.70"/><path d="M778.6 88.5L778.6 98.5" stroke-width="8.70"/><path d="M778.6 98.5L778.6 108.5" stroke-width="8.70"/><path d="M778.6 108.5L779.2 118.5" stroke-width="8.70"/><path d="M779.2 118.5L779.8 128.5" stroke-width="8.70"/><path d="M779.8 128.5L780.4 138.5" stroke-width="8.70"/><path d="M780.4 138.5L784.0 148.5" stroke-width="8.70"/><path d="M784.0 148.5L787.7 158.5" stroke-width="8.70"/><path d="M787.7 158.5L790.7 168.5" stroke-width="8.70"/><path d="M790.7 168.5L793.7 178.5" stroke-width="8.70"/><path d="M793.7 178.5L793.7 188.5" stroke-width="8.70"/><path d="M793.7 188.5L793.7 198.5" stroke-width="8.70"/><path d="M793.7 198.5L794.4 208.5" stroke-width="8.70"/><path d="M794.4 208.5L795.0 218.5" stroke-width="8.70"/><path d="M795.0 218.5L797.7 228.5" stroke-width="8.70"/><path d="M797.7 228.5L800.5 238.5" stroke-width="8.70"/><path d="M800.5 238.5L803.2 248.5" stroke-width="8.70"/><path d="M803.2 248.5L806.0 258.5" stroke-width="8.70"/><path d="M806.0 258.5L808.7 268.5" stroke-width="8.70"/><path d="M808.7 268.5L810.6 278.5" stroke-width="8.70"/><path d="M810.6 278.5L812.6 288.5" stroke-width="8.70"/><path d="M812.6 288.5L814.5 298.5" stroke-width="8.70"/><path d="M814.5 298.5L816.5 308.5" stroke-width="8.70"/><path d="M816.5 308.5L818.4 318.5" stroke-width="8.70"/><path d="M818.4 318.5L820.5 328.5" stroke-width="8.70"/><path d="M820.5 328.5L822.6 338.5" stroke-width="8.70"/><path d="M822.6 338.5L824.7 348.5" stroke-width="8.70"/><path d="M824.7 348.5L826.8 358.5" stroke-width="8.70"/><path d="M826.8 358.5L829.0 368.5" stroke-width="8.70"/><path d="M829.0 368.5L831.1 378.5" stroke-width="8.70"/><path d="M831.1 378.5L833.2 388.5" stroke-width="8.70"/><path d="M833.2 388.5L835.3 398.5" stroke-width="8.70"/><path d="M835.3 398.5L837.4 408.5" stroke-width="8.70"/><path d="M837.4 408.5L839.5 418.5" stroke-width="8.70"/><path d="M839.5 418.5L837.9 428.5" stroke-width="8.70"/><path d="M837.9 428.5L836.3 438.5" stroke-width="8.70"/><path d="M836.3 438.5L834.6 448.5" stroke-width="8.70"/><path d="M834.6 448.5L833.0 458.5" stroke-width="8.70"/><path d="M833.0 458.5L831.4 468.5" stroke-width="8.70"/><path d="M831.4 468.5L829.8 478.5" stroke-width="8.70"/><path d="M829.8 478.5L828.2 488.5" stroke-width="8.70"/><path d="M828.2 488.5L826.5 498.5" stroke-width="8.70"/><path d="M826.5 498.5L824.9 508.5" stroke-width="8.70"/><path d="M824.9 508.5L823.3 518.5" stroke-width="8.70"/><path d="M823.3 518.5L821.3 528.5" stroke-width="8.70"/><path d="M821.3 528.5L819.3 538.5" stroke-width="8.70"/><path d="M819.3 538.5L817.3 548.5" stroke-width="8.70"/><path d="M817.3 548.5L815.3 558.5" stroke-width="8.70"/><path d="M815.3 558.5L813.2 568.5" stroke-width="8.70"/><path d="M813.2 568.5L811.2 578.5" stroke-width="8.70"/><path d="M811.2 578.5L809.2 588.5" stroke-width="8.70"/><path d="M809.2 588.5L807.2 598.5" stroke-width="8.70"/><path d="M807.2 598.5L805.2 608.5" stroke-width="8.70"/><path d="M805.2 608.5L803.2 618.5" stroke-width="8.70"/><path d="M803.2 618.5L801.1 628.5" stroke-width="8.70"/><path d="M801.1 628.5L799.0 638.5" stroke-width="8.70"/><path d="M799.0 638.5L796.9 648.5" stroke-width="8.70"/><path d="M796.9 648.5L794.8 658.5" stroke-width="8.70"/><path d="M794.8 658.5L792.7 668.5" stroke-width="8.70"/><path d="M792.7 668.5L790.6 678.5" stroke-width="8.70"/><path d="M790.6 678.5L788.5 688.5" stroke-width="8.70"/><path d="M788.5 688.5L786.4 698.5" stroke-width="8.70"/><path d="M786.4 698.5L784.3 708.5" stroke-width="8.70"/><path d="M784.3 708.5L782.2 718.5" stroke-width="8.70"/><path d="M782.2 718.5L780.2 728.5" stroke-width="8.70"/><path d="M780.2 728.5L778.1 738.5" stroke-width="8.70"/><path d="M778.1 738.5L776.1 748.5" stroke-width="8.70"/><path d="M776.1 748.5L774.0 758.5" stroke-width="8.70"/><path d="M774.0 758.5L772.0 768.5" stroke-width="8.70"/><path d="M772.0 768.5L769.9 778.5" stroke-width="8.70"/><path d="M769.9 778.5L767.9 788.5" stroke-width="8.70"/><path d="M767.9 788.5L765.8 798.5" stroke-width="8.70"/><path d="M765.8 798.5L763.8 808.5" stroke-width="8.70"/><path d="M763.8 808.5L761.7 818.5" stroke-width="8.70"/></g>
<g fill="#ff0000"><circle cx="778.6" cy="18.5" r="6.35"/><circle cx="778.6" cy="22.5" r="6.35"/><circle cx="778.6" cy="26.5" r="6.35"/><circle cx="778.6" cy="30.5" r="6.35"/><circle cx="778.6" cy="34.5" r="6.35"/><circle cx="778.6" cy="38.5" r="6.35"/><circle cx="778.6" cy="42.5" r="6.35"/><circle cx="778.6" cy="48.5" r="6.35"/><circle cx="778.6" cy="58.5" r="6.35"/><circle cx="778.6" cy="68.5" r="6.35"/><circle cx="778.6" cy="78.5" r="6.35"/><circle cx="778.6" cy="88.5" r="6.35"/><circle cx="778.6" cy="98.5" r="6.35"/><circle cx="778.6" cy="108.5" r="6.35"/><circle cx="779.2" cy="118.5" r="6.35"/><circle cx="780.4" cy="138.5" r="6.35"/><circle cx="787.7" cy="158.5" r="6.35"/><circle cx="793.7" cy="178.5" r="6.35"/><circle cx="793.7" cy="198.5" r="6.35"/><circle cx="795.0" cy="218.5" r="6.35"/><circle cx="808.7" cy="268.5" r="6.35"/><circle cx="818.4" cy="318.5" r="6.35"/><circle cx="839.5" cy="418.5" r="6.35"/><circle cx="823.3" cy="518.5" r="6.35"/><circle cx="803.2" cy="618.5" r="6.35"/><circle cx="782.2" cy="718.5" r="6.35"/><circle cx="761.7" cy="818.5" r="6.35"/></g>
<polyline points="771.9,18.5 771.9,22.5 771.9,26.5 772.0,30.5 772.0,34.5 772.0,38.5 772.0,42.5 772.1,48.5 772.1,58.5 772.2,68.5 772.3,78.5 772.3,88.5 772.4,98.5 772.4,108.5 772.5,118.5 773.5,138.5 775.3,158.5 780.4,178.5 783.2,198.5 781.6,218.5 779.5,268.5 782.5,318.5 786.5,418.5 790.6,518.5 793.4,618.5 797.4,718.5 796.9,818.5" fill="none" stroke="#b37a0c" stroke-width="3.7" stroke-linejoin="round"/>
<polyline points="771.9,18.5 771.9,22.5 771.9,26.5 772.0,30.5 772.0,34.5 772.0,38.5 772.0,42.5 772.1,48.5 772.1,58.5 772.2,68.5 772.3,78.5 772.3,88.5 772.4,98.5 772.4,108.5 772.5,118.5 773.5,138.5 775.3,158.5 780.4,178.5 783.2,198.5 781.6,218.5 779.5,268.5 782.5,318.5 786.5,418.5 790.6,518.5 793.4,618.5 797.4,718.5 796.9,818.5" fill="none" stroke="#ffa500" stroke-width="2.3" stroke-linejoin="round"/>
<g fill="#b9800f"><circle cx="771.9" cy="18.5" r="6.2"/><circle cx="771.9" cy="22.5" r="6.2"/><circle cx="771.9" cy="26.5" r="6.2"/><circle cx="772.0" cy="30.5" r="6.2"/><circle cx="772.0" cy="34.5" r="6.2"/><circle cx="772.0" cy="38.5" r="6.2"/><circle cx="772.0" cy="42.5" r="6.2"/><circle cx="772.1" cy="48.5" r="6.2"/><circle cx="772.1" cy="58.5" r="6.2"/><circle cx="772.2" cy="68.5" r="6.2"/><circle cx="772.3" cy="78.5" r="6.2"/><circle cx="772.3" cy="88.5" r="6.2"/><circle cx="772.4" cy="98.5" r="6.2"/><circle cx="772.4" cy="108.5" r="6.2"/><circle cx="772.5" cy="118.5" r="6.2"/><circle cx="773.5" cy="138.5" r="6.2"/><circle cx="775.3" cy="158.5" r="6.2"/><circle cx="780.4" cy="178.5" r="6.2"/><circle cx="783.2" cy="198.5" r="6.2"/><circle cx="781.6" cy="218.5" r="6.2"/><circle cx="779.5" cy="268.5" r="6.2"/><circle cx="782.5" cy="318.5" r="6.2"/><circle cx="786.5" cy="418.5" r="6.2"/><circle cx="790.6" cy="518.5" r="6.2"/><circle cx="793.4" cy="618.5" r="6.2"/><circle cx="797.4" cy="718.5" r="6.2"/><circle cx="796.9" cy="818.5" r="6.2"/></g>
<g fill="#ffa500"><circle cx="771.9" cy="18.5" r="5.55"/><circle cx="771.9" cy="22.5" r="5.55"/><circle cx="771.9" cy="26.5" r="5.55"/><circle cx="772.0" cy="30.5" r="5.55"/><circle cx="772.0" cy="34.5" r="5.55"/><circle cx="772.0" cy="38.5" r="5.55"/><circle cx="772.0" cy="42.5" r="5.55"/><circle cx="772.1" cy="48.5" r="5.55"/><circle cx="772.1" cy="58.5" r="5.55"/><circle cx="772.2" cy="68.5" r="5.55"/><circle cx="772.3" cy="78.5" r="5.55"/><circle cx="772.3" cy="88.5" r="5.55"/><circle cx="772.4" cy="98.5" r="5.55"/><circle cx="772.4" cy="108.5" r="5.55"/><circle cx="772.5" cy="118.5" r="5.55"/><circle cx="773.5" cy="138.5" r="5.55"/><circle cx="775.3" cy="158.5" r="5.55"/><circle cx="780.4" cy="178.5" r="5.55"/><circle cx="783.2" cy="198.5" r="5.55"/><circle cx="781.6" cy="218.5" r="5.55"/><circle cx="779.5" cy="268.5" r="5.55"/><circle cx="782.5" cy="318.5" r="5.55"/><circle cx="786.5" cy="418.5" r="5.55"/><circle cx="790.6" cy="518.5" r="5.55"/><circle cx="793.4" cy="618.5" r="5.55"/><circle cx="797.4" cy="718.5" r="5.55"/><circle cx="796.9" cy="818.5" r="5.55"/></g>
<polyline points="725.2,18.5 725.2,22.5 725.3,26.5 725.3,30.5 725.4,34.5 725.4,38.5 725.5,42.5 725.6,48.5 725.7,58.5 725.8,68.5 726.1,78.5 726.4,88.5 726.7,98.5 727.0,108.5 727.4,118.5 728.6,138.5 735.5,158.5 741.6,178.5 743.4,198.5 745.6,218.5 753.5,268.5 752.5,318.5 741.6,418.5 721.6,518.5 698.6,618.5 677.4,718.5 658.6,818.5" fill="none" stroke="#008000" stroke-width="2.8" stroke-linejoin="round"/>
<g fill="#008000"><circle cx="725.2" cy="18.5" r="6.05"/><circle cx="725.2" cy="22.5" r="6.05"/><circle cx="725.3" cy="26.5" r="6.05"/><circle cx="725.3" cy="30.5" r="6.05"/><circle cx="725.4" cy="34.5" r="6.05"/><circle cx="725.4" cy="38.5" r="6.05"/><circle cx="725.5" cy="42.5" r="6.05"/><circle cx="725.6" cy="48.5" r="6.05"/><circle cx="725.7" cy="58.5" r="6.05"/><circle cx="725.8" cy="68.5" r="6.05"/><circle cx="726.1" cy="78.5" r="6.05"/><circle cx="726.4" cy="88.5" r="6.05"/><circle cx="726.7" cy="98.5" r="6.05"/><circle cx="727.0" cy="108.5" r="6.05"/><circle cx="727.4" cy="118.5" r="6.05"/><circle cx="728.6" cy="138.5" r="6.05"/><circle cx="735.5" cy="158.5" r="6.05"/><circle cx="741.6" cy="178.5" r="6.05"/><circle cx="743.4" cy="198.5" r="6.05"/><circle cx="745.6" cy="218.5" r="6.05"/><circle cx="753.5" cy="268.5" r="6.05"/><circle cx="752.5" cy="318.5" r="6.05"/><circle cx="741.6" cy="418.5" r="6.05"/><circle cx="721.6" cy="518.5" r="6.05"/><circle cx="698.6" cy="618.5" r="6.05"/><circle cx="677.4" cy="718.5" r="6.05"/><circle cx="658.6" cy="818.5" r="6.05"/></g>
<polyline points="849.4,19.5 849.4,21.6 849.5,23.8 849.5,26.1 849.5,28.6 849.6,31.4 849.6,34.3 849.7,37.6 849.8,41.3 849.8,45.4 849.9,50.1 850.0,55.5 850.1,61.7 850.2,68.9 850.4,77.4 850.4,87.3 850.4,99.2 850.4,113.2 850.8,130.0 851.1,150.1 851.6,174.2 853.2,203.1 854.4,237.9 868.4,279.8 886.5,330.2 882.6,390.7 867.4,463.4 850.5,550.6 839.6,654.7 826.5,778.9" fill="none" stroke="#ff00ff" stroke-width="2.8" stroke-linejoin="round"/>
<g fill="#ff00ff"><circle cx="849.4" cy="19.5" r="6.05"/><circle cx="849.4" cy="21.6" r="6.05"/><circle cx="849.5" cy="23.8" r="6.05"/><circle cx="849.5" cy="26.1" r="6.05"/><circle cx="849.5" cy="28.6" r="6.05"/><circle cx="849.6" cy="31.4" r="6.05"/><circle cx="849.6" cy="34.3" r="6.05"/><circle cx="849.7" cy="37.6" r="6.05"/><circle cx="849.8" cy="41.3" r="6.05"/><circle cx="849.8" cy="45.4" r="6.05"/><circle cx="849.9" cy="50.1" r="6.05"/><circle cx="850.0" cy="55.5" r="6.05"/><circle cx="850.1" cy="61.7" r="6.05"/><circle cx="850.2" cy="68.9" r="6.05"/><circle cx="850.4" cy="77.4" r="6.05"/><circle cx="850.4" cy="87.3" r="6.05"/><circle cx="850.4" cy="99.2" r="6.05"/><circle cx="850.4" cy="113.2" r="6.05"/><circle cx="850.8" cy="130.0" r="6.05"/><circle cx="851.1" cy="150.1" r="6.05"/><circle cx="851.6" cy="174.2" r="6.05"/><circle cx="853.2" cy="203.1" r="6.05"/><circle cx="854.4" cy="237.9" r="6.05"/><circle cx="868.4" cy="279.8" r="6.05"/><circle cx="886.5" cy="330.2" r="6.05"/><circle cx="882.6" cy="390.7" r="6.05"/><circle cx="867.4" cy="463.4" r="6.05"/><circle cx="850.5" cy="550.6" r="6.05"/><circle cx="839.6" cy="654.7" r="6.05"/><circle cx="826.5" cy="778.9" r="6.05"/></g>
</g>
<rect x="580.5" y="19.5" width="402.0" height="794.9" fill="none" stroke="#000" stroke-width="1.35"/>
<path d="M628.5 814.4v6.1M691.5 814.4v6.1M754.5 814.4v6.1M817.5 814.4v6.1M880.5 814.4v6.1M943.5 814.4v6.1M580.5 19.5h-6.1M580.5 68.5h-6.1M580.5 118.5h-6.1M580.5 168.5h-6.1M580.5 218.5h-6.1M580.5 268.5h-6.1M580.5 318.5h-6.1M580.5 368.5h-6.1M580.5 418.5h-6.1M580.5 468.5h-6.1M580.5 518.5h-6.1M580.5 568.5h-6.1M580.5 618.5h-6.1M580.5 668.5h-6.1M580.5 718.5h-6.1M580.5 768.5h-6.1" stroke="#000" stroke-width="1.3" fill="none"/>
<g font-size="17.36" text-anchor="middle"><text x="628.5" y="842">36.0</text><text x="691.5" y="842">36.2</text><text x="754.5" y="842">36.4</text><text x="817.5" y="842">36.6</text><text x="880.5" y="842">36.8</text><text x="943.5" y="842">37.0</text></g>
<g clip-path="url(#c2)">
<path d="M1132.5 814.4V19.5M1224.5 814.4V19.5M1317.5 814.4V19.5M1410.5 814.4V19.5M1072.5 68.5H1474.5M1072.5 118.5H1474.5M1072.5 168.5H1474.5M1072.5 218.5H1474.5M1072.5 268.5H1474.5M1072.5 318.5H1474.5M1072.5 368.5H1474.5M1072.5 418.5H1474.5M1072.5 468.5H1474.5M1072.5 518.5H1474.5M1072.5 568.5H1474.5M1072.5 618.5H1474.5M1072.5 668.5H1474.5M1072.5 718.5H1474.5M1072.5 768.5H1474.5" stroke="#b0b0b0" stroke-width="0.87" stroke-dasharray="3.21 1.39" fill="none"/>
<g fill="#00ffff"><circle cx="1147.7" cy="24.5" r="3.3"/><circle cx="1149.0" cy="33.0" r="3.3"/><circle cx="1150.6" cy="42.4" r="3.3"/><circle cx="1152.4" cy="51.4" r="3.3"/><circle cx="1154.5" cy="60.1" r="3.3"/><circle cx="1157.0" cy="69.5" r="3.3"/><circle cx="1158.4" cy="78.2" r="3.3"/><circle cx="1161.1" cy="87.2" r="3.3"/><circle cx="1162.7" cy="95.9" r="3.3"/><circle cx="1165.1" cy="104.6" r="3.3"/><circle cx="1166.8" cy="113.9" r="3.3"/><circle cx="1169.8" cy="122.4" r="3.3"/><circle cx="1172.6" cy="131.7" r="3.3"/><circle cx="1173.9" cy="140.2" r="3.3"/><circle cx="1176.2" cy="149.8" r="3.3"/><circle cx="1177.8" cy="158.6" r="3.3"/><circle cx="1179.8" cy="168.5" r="3.3"/><circle cx="1181.8" cy="177.8" r="3.3"/><circle cx="1184.3" cy="186.9" r="3.3"/><circle cx="1185.8" cy="196.9" r="3.3"/><circle cx="1187.9" cy="205.6" r="3.3"/><circle cx="1189.5" cy="214.3" r="3.3"/><circle cx="1193.1" cy="224.2" r="3.3"/><circle cx="1196.9" cy="233.9" r="3.3"/><circle cx="1201.3" cy="243.7" r="3.3"/><circle cx="1206.9" cy="252.4" r="3.3"/><circle cx="1216.9" cy="261.7" r="3.3"/><circle cx="1225.8" cy="271.5" r="3.3"/><circle cx="1234.1" cy="280.9" r="3.3"/><circle cx="1243.8" cy="290.1" r="3.3"/><circle cx="1253.3" cy="299.0" r="3.3"/><circle cx="1259.0" cy="308.8" r="3.3"/><circle cx="1264.4" cy="318.0" r="3.3"/><circle cx="1271.0" cy="328.0" r="3.3"/><circle cx="1277.4" cy="336.6" r="3.3"/><circle cx="1283.4" cy="346.5" r="3.3"/><circle cx="1288.5" cy="355.0" r="3.3"/><circle cx="1293.1" cy="364.0" r="3.3"/><circle cx="1297.5" cy="373.4" r="3.3"/><circle cx="1301.2" cy="382.1" r="3.3"/><circle cx="1304.7" cy="390.9" r="3.3"/><circle cx="1309.7" cy="400.6" r="3.3"/><circle cx="1312.7" cy="409.3" r="3.3"/><circle cx="1316.6" cy="418.3" r="3.3"/><circle cx="1319.7" cy="427.4" r="3.3"/><circle cx="1323.1" cy="436.1" r="3.3"/><circle cx="1325.5" cy="446.0" r="3.3"/><circle cx="1329.0" cy="455.3" r="3.3"/><circle cx="1331.7" cy="463.7" r="3.3"/><circle cx="1334.0" cy="472.3" r="3.3"/><circle cx="1336.9" cy="481.6" r="3.3"/><circle cx="1339.4" cy="490.5" r="3.3"/><circle cx="1342.5" cy="499.8" r="3.3"/><circle cx="1345.6" cy="509.3" r="3.3"/><circle cx="1348.3" cy="518.4" r="3.3"/><circle cx="1351.9" cy="527.8" r="3.3"/><circle cx="1354.8" cy="536.6" r="3.3"/><circle cx="1357.3" cy="546.2" r="3.3"/><circle cx="1359.5" cy="554.9" r="3.3"/><circle cx="1361.0" cy="563.5" r="3.3"/><circle cx="1363.2" cy="572.6" r="3.3"/><circle cx="1366.2" cy="581.7" r="3.3"/><circle cx="1368.6" cy="590.1" r="3.3"/><circle cx="1371.2" cy="598.7" r="3.3"/><circle cx="1373.7" cy="608.3" r="3.3"/><circle cx="1376.0" cy="616.8" r="3.3"/><circle cx="1378.9" cy="625.8" r="3.3"/><circle cx="1381.0" cy="634.4" r="3.3"/><circle cx="1383.4" cy="644.4" r="3.3"/><circle cx="1385.3" cy="654.1" r="3.3"/><circle cx="1388.0" cy="664.1" r="3.3"/><circle cx="1391.2" cy="674.0" r="3.3"/><circle cx="1393.7" cy="682.7" r="3.3"/><circle cx="1395.8" cy="692.6" r="3.3"/><circle cx="1398.9" cy="701.5" r="3.3"/><circle cx="1401.1" cy="710.2" r="3.3"/><circle cx="1402.4" cy="719.0" r="3.3"/><circle cx="1403.5" cy="727.6" r="3.3"/><circle cx="1405.4" cy="737.5" r="3.3"/><circle cx="1407.6" cy="746.3" r="3.3"/><circle cx="1409.3" cy="755.2" r="3.3"/><circle cx="1411.6" cy="763.9" r="3.3"/><circle cx="1414.6" cy="773.8" r="3.3"/><circle cx="1416.5" cy="783.7" r="3.3"/><circle cx="1418.6" cy="793.3" r="3.3"/><circle cx="1421.0" cy="802.6" r="3.3"/><circle cx="1423.0" cy="811.6" r="3.3"/><circle cx="1145.7" cy="21.7" r="3.3"/><circle cx="1147.0" cy="31.5" r="3.3"/><circle cx="1149.4" cy="41.5" r="3.3"/><circle cx="1151.4" cy="50.5" r="3.3"/><circle cx="1153.4" cy="59.3" r="3.3"/><circle cx="1154.8" cy="68.6" r="3.3"/><circle cx="1156.9" cy="78.3" r="3.3"/><circle cx="1159.1" cy="87.0" r="3.3"/><circle cx="1161.0" cy="95.4" r="3.3"/><circle cx="1162.5" cy="104.2" r="3.3"/><circle cx="1164.9" cy="114.2" r="3.3"/><circle cx="1167.3" cy="123.7" r="3.3"/><circle cx="1169.1" cy="132.1" r="3.3"/><circle cx="1171.3" cy="140.7" r="3.3"/><circle cx="1172.9" cy="149.8" r="3.3"/><circle cx="1174.2" cy="159.6" r="3.3"/><circle cx="1176.3" cy="168.4" r="3.3"/><circle cx="1177.2" cy="176.8" r="3.3"/><circle cx="1179.0" cy="185.8" r="3.3"/><circle cx="1180.8" cy="194.8" r="3.3"/><circle cx="1182.8" cy="204.1" r="3.3"/><circle cx="1184.8" cy="212.8" r="3.3"/><circle cx="1186.2" cy="222.0" r="3.3"/><circle cx="1187.6" cy="231.9" r="3.3"/><circle cx="1189.2" cy="240.5" r="3.3"/><circle cx="1192.7" cy="250.0" r="3.3"/><circle cx="1205.6" cy="259.6" r="3.3"/><circle cx="1212.2" cy="268.4" r="3.3"/><circle cx="1218.3" cy="277.9" r="3.3"/><circle cx="1221.4" cy="286.8" r="3.3"/><circle cx="1228.1" cy="295.9" r="3.3"/><circle cx="1236.7" cy="305.5" r="3.3"/><circle cx="1245.2" cy="315.4" r="3.3"/><circle cx="1252.8" cy="324.6" r="3.3"/><circle cx="1258.6" cy="333.4" r="3.3"/><circle cx="1265.0" cy="343.0" r="3.3"/><circle cx="1271.6" cy="352.3" r="3.3"/><circle cx="1275.6" cy="360.9" r="3.3"/><circle cx="1280.9" cy="370.3" r="3.3"/><circle cx="1285.6" cy="379.7" r="3.3"/><circle cx="1289.2" cy="388.4" r="3.3"/><circle cx="1293.4" cy="397.3" r="3.3"/><circle cx="1299.8" cy="407.1" r="3.3"/><circle cx="1304.3" cy="416.7" r="3.3"/><circle cx="1310.4" cy="426.4" r="3.3"/><circle cx="1314.9" cy="435.6" r="3.3"/><circle cx="1318.6" cy="444.7" r="3.3"/><circle cx="1321.9" cy="453.3" r="3.3"/><circle cx="1324.6" cy="461.7" r="3.3"/><circle cx="1327.9" cy="471.3" r="3.3"/><circle cx="1330.9" cy="481.1" r="3.3"/><circle cx="1333.5" cy="489.9" r="3.3"/><circle cx="1336.7" cy="499.0" r="3.3"/><circle cx="1339.3" cy="508.2" r="3.3"/><circle cx="1343.1" cy="517.7" r="3.3"/><circle cx="1346.0" cy="526.4" r="3.3"/><circle cx="1348.0" cy="534.8" r="3.3"/><circle cx="1351.1" cy="543.6" r="3.3"/><circle cx="1353.7" cy="553.5" r="3.3"/><circle cx="1355.9" cy="562.4" r="3.3"/><circle cx="1357.4" cy="571.4" r="3.3"/><circle cx="1360.5" cy="581.2" r="3.3"/><circle cx="1363.2" cy="590.7" r="3.3"/><circle cx="1365.9" cy="600.7" r="3.3"/><circle cx="1368.9" cy="610.4" r="3.3"/><circle cx="1371.3" cy="620.2" r="3.3"/><circle cx="1374.0" cy="629.8" r="3.3"/><circle cx="1376.0" cy="638.7" r="3.3"/><circle cx="1378.2" cy="648.1" r="3.3"/><circle cx="1380.7" cy="657.9" r="3.3"/><circle cx="1382.8" cy="666.4" r="3.3"/><circle cx="1385.9" cy="676.2" r="3.3"/><circle cx="1388.3" cy="684.9" r="3.3"/><circle cx="1391.3" cy="693.3" r="3.3"/><circle cx="1393.8" cy="702.8" r="3.3"/><circle cx="1395.3" cy="712.3" r="3.3"/><circle cx="1397.1" cy="721.7" r="3.3"/><circle cx="1399.4" cy="731.4" r="3.3"/><circle cx="1400.8" cy="741.2" r="3.3"/><circle cx="1404.0" cy="751.0" r="3.3"/><circle cx="1405.6" cy="760.9" r="3.3"/><circle cx="1407.8" cy="769.6" r="3.3"/><circle cx="1410.7" cy="778.1" r="3.3"/><circle cx="1412.9" cy="787.8" r="3.3"/><circle cx="1414.9" cy="797.5" r="3.3"/><circle cx="1416.2" cy="806.4" r="3.3"/><circle cx="1418.5" cy="814.9" r="3.3"/><circle cx="1143.1" cy="20.1" r="3.3"/><circle cx="1146.7" cy="38.5" r="3.3"/><circle cx="1150.8" cy="56.6" r="3.3"/><circle cx="1154.8" cy="75.7" r="3.3"/><circle cx="1159.7" cy="93.9" r="3.3"/><circle cx="1164.6" cy="112.5" r="3.3"/><circle cx="1169.6" cy="131.3" r="3.3"/><circle cx="1173.5" cy="149.8" r="3.3"/><circle cx="1176.4" cy="168.9" r="3.3"/><circle cx="1181.2" cy="187.9" r="3.3"/><circle cx="1186.3" cy="206.0" r="3.3"/><circle cx="1192.0" cy="223.7" r="3.3"/><circle cx="1196.9" cy="241.7" r="3.3"/><circle cx="1207.2" cy="259.7" r="3.3"/><circle cx="1222.9" cy="279.2" r="3.3"/><circle cx="1242.9" cy="297.8" r="3.3"/><circle cx="1256.8" cy="317.0" r="3.3"/><circle cx="1266.1" cy="335.6" r="3.3"/><circle cx="1277.0" cy="354.9" r="3.3"/><circle cx="1290.6" cy="374.4" r="3.3"/><circle cx="1301.5" cy="392.4" r="3.3"/><circle cx="1307.8" cy="411.0" r="3.3"/><circle cx="1314.3" cy="429.9" r="3.3"/><circle cx="1323.4" cy="449.0" r="3.3"/><circle cx="1330.6" cy="468.2" r="3.3"/><circle cx="1336.3" cy="486.5" r="3.3"/><circle cx="1341.6" cy="504.9" r="3.3"/><circle cx="1346.6" cy="522.7" r="3.3"/><circle cx="1351.9" cy="540.3" r="3.3"/><circle cx="1358.8" cy="558.5" r="3.3"/><circle cx="1362.8" cy="577.1" r="3.3"/><circle cx="1366.7" cy="596.4" r="3.3"/><circle cx="1371.7" cy="615.0" r="3.3"/><circle cx="1378.1" cy="634.1" r="3.3"/><circle cx="1383.5" cy="653.0" r="3.3"/><circle cx="1387.3" cy="671.2" r="3.3"/><circle cx="1392.4" cy="690.5" r="3.3"/><circle cx="1396.8" cy="709.6" r="3.3"/><circle cx="1401.7" cy="728.1" r="3.3"/><circle cx="1405.7" cy="746.8" r="3.3"/><circle cx="1410.2" cy="765.3" r="3.3"/><circle cx="1412.9" cy="783.4" r="3.3"/><circle cx="1417.8" cy="801.6" r="3.3"/></g>
<polyline points="1146.0,28.5 1150.0,48.5 1154.5,68.5 1159.1,88.5 1163.4,108.5 1169.5,128.5 1173.7,148.5 1177.6,168.5 1181.8,188.5 1185.8,208.5 1191.6,228.5 1199.5,248.5 1217.0,268.5 1231.6,288.5 1248.9,308.5 1263.7,328.5 1276.7,348.5 1287.4,368.5 1296.5,388.5 1306.5,408.5 1315.9,428.5 1323.7,448.5 1329.8,468.5 1335.9,488.5 1342.5,508.5 1349.2,528.5 1355.2,548.5 1359.7,568.5 1365.2,588.5 1371.0,608.5 1376.4,628.5 1381.5,648.5 1386.4,668.5 1392.5,688.5 1397.8,708.5 1401.0,728.5 1405.5,748.5 1410.5,768.5 1415.5,788.5 1419.5,808.5" fill="none" stroke="#0000ff" stroke-width="2.8" stroke-linejoin="round"/>
<g fill="#0000ff"><circle cx="1146.0" cy="28.5" r="6.05"/><circle cx="1150.0" cy="48.5" r="6.05"/><circle cx="1154.5" cy="68.5" r="6.05"/><circle cx="1159.1" cy="88.5" r="6.05"/><circle cx="1163.4" cy="108.5" r="6.05"/><circle cx="1169.5" cy="128.5" r="6.05"/><circle cx="1173.7" cy="148.5" r="6.05"/><circle cx="1177.6" cy="168.5" r="6.05"/><circle cx="1181.8" cy="188.5" r="6.05"/><circle cx="1185.8" cy="208.5" r="6.05"/><circle cx="1191.6" cy="228.5" r="6.05"/><circle cx="1199.5" cy="248.5" r="6.05"/><circle cx="1217.0" cy="268.5" r="6.05"/><circle cx="1231.6" cy="288.5" r="6.05"/><circle cx="1248.9" cy="308.5" r="6.05"/><circle cx="1263.7" cy="328.5" r="6.05"/><circle cx="1276.7" cy="348.5" r="6.05"/><circle cx="1287.4" cy="368.5" r="6.05"/><circle cx="1296.5" cy="388.5" r="6.05"/><circle cx="1306.5" cy="408.5" r="6.05"/><circle cx="1315.9" cy="428.5" r="6.05"/><circle cx="1323.7" cy="448.5" r="6.05"/><circle cx="1329.8" cy="468.5" r="6.05"/><circle cx="1335.9" cy="488.5" r="6.05"/><circle cx="1342.5" cy="508.5" r="6.05"/><circle cx="1349.2" cy="528.5" r="6.05"/><circle cx="1355.2" cy="548.5" r="6.05"/><circle cx="1359.7" cy="568.5" r="6.05"/><circle cx="1365.2" cy="588.5" r="6.05"/><circle cx="1371.0" cy="608.5" r="6.05"/><circle cx="1376.4" cy="628.5" r="6.05"/><circle cx="1381.5" cy="648.5" r="6.05"/><circle cx="1386.4" cy="668.5" r="6.05"/><circle cx="1392.5" cy="688.5" r="6.05"/><circle cx="1397.8" cy="708.5" r="6.05"/><circle cx="1401.0" cy="728.5" r="6.05"/><circle cx="1405.5" cy="748.5" r="6.05"/><circle cx="1410.5" cy="768.5" r="6.05"/><circle cx="1415.5" cy="788.5" r="6.05"/><circle cx="1419.5" cy="808.5" r="6.05"/></g>
<g fill="none" stroke="#ff0000" stroke-linecap="round"><path d="M1133.9 18.5L1136.0 28.5" stroke-width="8.70"/><path d="M1136.0 28.5L1138.2 38.5" stroke-width="8.70"/><path d="M1138.2 38.5L1140.3 48.5" stroke-width="8.70"/><path d="M1140.3 48.5L1142.4 58.5" stroke-width="8.70"/><path d="M1142.4 58.5L1144.8 68.5" stroke-width="8.70"/><path d="M1144.8 68.5L1147.0 78.5" stroke-width="8.70"/><path d="M1147.0 78.5L1149.1 88.5" stroke-width="8.70"/><path d="M1149.1 88.5L1151.0 98.5" stroke-width="8.70"/><path d="M1151.0 98.5L1152.8 108.5" stroke-width="8.70"/><path d="M1152.8 108.5L1154.5 118.5" stroke-width="8.70"/><path d="M1154.5 118.5L1156.2 128.5" stroke-width="8.70"/><path d="M1156.2 128.5L1158.0 138.5" stroke-width="8.70"/><path d="M1158.0 138.5L1161.0 148.5" stroke-width="8.70"/><path d="M1161.0 148.5L1164.0 158.5" stroke-width="8.70"/><path d="M1164.0 158.5L1167.2 168.5" stroke-width="8.70"/><path d="M1167.2 168.5L1170.5 178.5" stroke-width="8.70"/><path d="M1170.5 178.5L1173.7 188.5" stroke-width="8.70"/><path d="M1173.7 188.5L1176.8 198.5" stroke-width="8.70"/><path d="M1176.8 198.5L1180.4 208.5" stroke-width="8.70"/><path d="M1180.4 208.5L1184.0 218.5" stroke-width="8.70"/><path d="M1184.0 218.5L1190.7 228.5" stroke-width="8.70"/><path d="M1190.7 228.5L1197.4 238.5" stroke-width="8.70"/><path d="M1197.4 238.5L1204.0 248.5" stroke-width="8.70"/><path d="M1204.0 248.5L1210.7 258.5" stroke-width="8.70"/><path d="M1210.7 258.5L1217.4 268.5" stroke-width="8.70"/><path d="M1217.4 268.5L1221.6 278.5" stroke-width="8.70"/><path d="M1221.6 278.5L1225.8 288.5" stroke-width="8.70"/><path d="M1225.8 288.5L1230.1 298.5" stroke-width="8.70"/><path d="M1230.1 298.5L1234.3 308.5" stroke-width="9.02"/><path d="M1234.3 308.5L1238.5 318.5" stroke-width="9.68"/><path d="M1238.5 318.5L1244.0 328.5" stroke-width="10.20"/><path d="M1244.0 328.5L1249.5 338.5" stroke-width="10.60"/><path d="M1249.5 338.5L1255.1 348.5" stroke-width="11.00"/><path d="M1255.1 348.5L1260.6 358.5" stroke-width="11.40"/><path d="M1260.6 358.5L1266.1 368.5" stroke-width="11.80"/><path d="M1266.1 368.5L1271.6 378.5" stroke-width="11.92"/><path d="M1271.6 378.5L1277.1 388.5" stroke-width="11.76"/><path d="M1277.1 388.5L1282.7 398.5" stroke-width="11.60"/><path d="M1282.7 398.5L1288.2 408.5" stroke-width="11.44"/><path d="M1288.2 408.5L1293.7 418.5" stroke-width="11.28"/><path d="M1293.7 418.5L1297.2 428.5" stroke-width="11.12"/><path d="M1297.2 428.5L1300.7 438.5" stroke-width="10.96"/><path d="M1300.7 438.5L1304.1 448.5" stroke-width="10.80"/><path d="M1304.1 448.5L1307.6 458.5" stroke-width="10.64"/><path d="M1307.6 458.5L1311.1 468.5" stroke-width="10.48"/><path d="M1311.1 468.5L1314.6 478.5" stroke-width="10.32"/><path d="M1314.6 478.5L1318.1 488.5" stroke-width="10.16"/><path d="M1318.1 488.5L1321.5 498.5" stroke-width="10.00"/><path d="M1321.5 498.5L1325.0 508.5" stroke-width="9.84"/><path d="M1325.0 508.5L1328.5 518.5" stroke-width="9.68"/><path d="M1328.5 518.5L1331.7 528.5" stroke-width="9.53"/><path d="M1331.7 528.5L1334.9 538.5" stroke-width="9.39"/><path d="M1334.9 538.5L1338.2 548.5" stroke-width="9.25"/><path d="M1338.2 548.5L1341.4 558.5" stroke-width="9.11"/><path d="M1341.4 558.5L1344.6 568.5" stroke-width="8.97"/><path d="M1344.6 568.5L1347.8 578.5" stroke-width="8.89"/><path d="M1347.8 578.5L1351.0 588.5" stroke-width="8.89"/><path d="M1351.0 588.5L1354.3 598.5" stroke-width="8.88"/><path d="M1354.3 598.5L1357.5 608.5" stroke-width="8.87"/><path d="M1357.5 608.5L1360.7 618.5" stroke-width="8.86"/><path d="M1360.7 618.5L1364.1 628.5" stroke-width="8.85"/><path d="M1364.1 628.5L1367.5 638.5" stroke-width="8.84"/><path d="M1367.5 638.5L1370.8 648.5" stroke-width="8.82"/><path d="M1370.8 648.5L1374.2 658.5" stroke-width="8.82"/><path d="M1374.2 658.5L1377.6 668.5" stroke-width="8.80"/><path d="M1377.6 668.5L1381.0 678.5" stroke-width="8.82"/><path d="M1381.0 678.5L1384.4 688.5" stroke-width="8.86"/><path d="M1384.4 688.5L1387.7 698.5" stroke-width="8.90"/><path d="M1387.7 698.5L1391.1 708.5" stroke-width="8.94"/><path d="M1391.1 708.5L1394.5 718.5" stroke-width="8.98"/><path d="M1394.5 718.5L1397.6 728.5" stroke-width="9.13"/><path d="M1397.6 728.5L1400.7 738.5" stroke-width="9.39"/><path d="M1400.7 738.5L1403.8 748.5" stroke-width="9.65"/><path d="M1403.8 748.5L1406.9 758.5" stroke-width="9.91"/><path d="M1406.9 758.5L1410.0 768.5" stroke-width="10.17"/><path d="M1410.0 768.5L1413.1 778.5" stroke-width="10.42"/><path d="M1413.1 778.5L1416.2 788.5" stroke-width="10.66"/><path d="M1416.2 788.5L1419.3 798.5" stroke-width="10.90"/><path d="M1419.3 798.5L1422.4 808.5" stroke-width="11.14"/><path d="M1422.4 808.5L1425.5 818.5" stroke-width="11.38"/></g>
<g fill="#ff0000"><circle cx="1133.9" cy="18.5" r="6.35"/><circle cx="1134.8" cy="22.5" r="6.35"/><circle cx="1135.6" cy="26.5" r="6.35"/><circle cx="1136.5" cy="30.5" r="6.35"/><circle cx="1137.3" cy="34.5" r="6.35"/><circle cx="1138.2" cy="38.5" r="6.35"/><circle cx="1139.0" cy="42.5" r="6.35"/><circle cx="1140.3" cy="48.5" r="6.35"/><circle cx="1142.4" cy="58.5" r="6.35"/><circle cx="1144.8" cy="68.5" r="6.35"/><circle cx="1147.0" cy="78.5" r="6.35"/><circle cx="1149.1" cy="88.5" r="6.35"/><circle cx="1151.0" cy="98.5" r="6.35"/><circle cx="1152.8" cy="108.5" r="6.35"/><circle cx="1154.5" cy="118.5" r="6.35"/><circle cx="1158.0" cy="138.5" r="6.35"/><circle cx="1164.0" cy="158.5" r="6.35"/><circle cx="1170.5" cy="178.5" r="6.35"/><circle cx="1176.8" cy="198.5" r="6.35"/><circle cx="1184.0" cy="218.5" r="6.35"/><circle cx="1217.4" cy="268.5" r="6.35"/><circle cx="1238.5" cy="318.5" r="6.35"/><circle cx="1293.7" cy="418.5" r="6.35"/><circle cx="1328.5" cy="518.5" r="6.35"/><circle cx="1360.7" cy="618.5" r="6.35"/><circle cx="1394.5" cy="718.5" r="6.35"/><circle cx="1425.5" cy="818.5" r="6.35"/></g>
<polyline points="1134.9,18.5 1135.8,22.5 1136.6,26.5 1137.5,30.5 1138.3,34.5 1139.2,38.5 1140.0,42.5 1141.3,48.5 1143.4,58.5 1145.8,68.5 1148.0,78.5 1150.1,88.5 1152.0,98.5 1153.8,108.5 1155.5,118.5 1159.4,138.5 1165.8,158.5 1171.5,178.5 1181.0,198.5 1192.6,218.5 1226.2,268.5 1248.0,318.5 1285.4,418.5 1320.4,518.5 1351.2,618.5 1383.1,718.5 1413.5,818.5" fill="none" stroke="#b37a0c" stroke-width="3.7" stroke-linejoin="round"/>
<polyline points="1134.9,18.5 1135.8,22.5 1136.6,26.5 1137.5,30.5 1138.3,34.5 1139.2,38.5 1140.0,42.5 1141.3,48.5 1143.4,58.5 1145.8,68.5 1148.0,78.5 1150.1,88.5 1152.0,98.5 1153.8,108.5 1155.5,118.5 1159.4,138.5 1165.8,158.5 1171.5,178.5 1181.0,198.5 1192.6,218.5 1226.2,268.5 1248.0,318.5 1285.4,418.5 1320.4,518.5 1351.2,618.5 1383.1,718.5 1413.5,818.5" fill="none" stroke="#ffa500" stroke-width="2.3" stroke-linejoin="round"/>
<polyline points="1196.2,218.5 1228.8,268.5 1248.3,318.5" fill="none" stroke="#b37a0c" stroke-width="3.7" stroke-linejoin="round"/>
<polyline points="1196.2,218.5 1228.8,268.5 1248.3,318.5" fill="none" stroke="#ffa500" stroke-width="2.3" stroke-linejoin="round"/>
<g fill="#b9800f"><circle cx="1134.9" cy="18.5" r="6.2"/><circle cx="1135.8" cy="22.5" r="6.2"/><circle cx="1136.6" cy="26.5" r="6.2"/><circle cx="1137.5" cy="30.5" r="6.2"/><circle cx="1138.3" cy="34.5" r="6.2"/><circle cx="1139.2" cy="38.5" r="6.2"/><circle cx="1140.0" cy="42.5" r="6.2"/><circle cx="1141.3" cy="48.5" r="6.2"/><circle cx="1143.4" cy="58.5" r="6.2"/><circle cx="1145.8" cy="68.5" r="6.2"/><circle cx="1148.0" cy="78.5" r="6.2"/><circle cx="1150.1" cy="88.5" r="6.2"/><circle cx="1152.0" cy="98.5" r="6.2"/><circle cx="1153.8" cy="108.5" r="6.2"/><circle cx="1155.5" cy="118.5" r="6.2"/><circle cx="1159.4" cy="138.5" r="6.2"/><circle cx="1165.8" cy="158.5" r="6.2"/><circle cx="1171.5" cy="178.5" r="6.2"/><circle cx="1181.0" cy="198.5" r="6.2"/><circle cx="1192.6" cy="218.5" r="6.2"/><circle cx="1226.2" cy="268.5" r="6.2"/><circle cx="1248.0" cy="318.5" r="6.2"/><circle cx="1285.4" cy="418.5" r="6.2"/><circle cx="1320.4" cy="518.5" r="6.2"/><circle cx="1351.2" cy="618.5" r="6.2"/><circle cx="1383.1" cy="718.5" r="6.2"/><circle cx="1413.5" cy="818.5" r="6.2"/></g>
<g fill="#ffa500"><circle cx="1134.9" cy="18.5" r="5.55"/><circle cx="1135.8" cy="22.5" r="5.55"/><circle cx="1136.6" cy="26.5" r="5.55"/><circle cx="1137.5" cy="30.5" r="5.55"/><circle cx="1138.3" cy="34.5" r="5.55"/><circle cx="1139.2" cy="38.5" r="5.55"/><circle cx="1140.0" cy="42.5" r="5.55"/><circle cx="1141.3" cy="48.5" r="5.55"/><circle cx="1143.4" cy="58.5" r="5.55"/><circle cx="1145.8" cy="68.5" r="5.55"/><circle cx="1148.0" cy="78.5" r="5.55"/><circle cx="1150.1" cy="88.5" r="5.55"/><circle cx="1152.0" cy="98.5" r="5.55"/><circle cx="1153.8" cy="108.5" r="5.55"/><circle cx="1155.5" cy="118.5" r="5.55"/><circle cx="1159.4" cy="138.5" r="5.55"/><circle cx="1165.8" cy="158.5" r="5.55"/><circle cx="1171.5" cy="178.5" r="5.55"/><circle cx="1181.0" cy="198.5" r="5.55"/><circle cx="1192.6" cy="218.5" r="5.55"/><circle cx="1226.2" cy="268.5" r="5.55"/><circle cx="1248.0" cy="318.5" r="5.55"/><circle cx="1285.4" cy="418.5" r="5.55"/><circle cx="1320.4" cy="518.5" r="5.55"/><circle cx="1351.2" cy="618.5" r="5.55"/><circle cx="1383.1" cy="718.5" r="5.55"/><circle cx="1413.5" cy="818.5" r="5.55"/></g>
<polyline points="1120.6,18.5 1121.5,22.5 1122.5,26.5 1123.2,30.5 1123.8,34.5 1124.3,38.5 1124.8,42.5 1125.2,48.5 1127.6,58.5 1129.4,68.5 1131.5,78.5 1133.7,88.5 1135.5,98.5 1138.5,108.5 1140.7,118.5 1145.6,138.5 1159.5,158.5 1175.5,178.5 1186.5,198.5 1199.6,218.5 1235.5,268.5 1277.6,318.5 1316.6,418.5 1344.8,518.5 1369.8,618.5 1395.0,718.5 1421.5,818.5" fill="none" stroke="#008000" stroke-width="2.8" stroke-linejoin="round"/>
<g fill="#008000"><circle cx="1118.3" cy="18.5" r="6.05"/><circle cx="1119.6" cy="22.5" r="6.05"/><circle cx="1121.0" cy="26.5" r="6.05"/><circle cx="1120.6" cy="18.5" r="6.05"/><circle cx="1121.5" cy="22.5" r="6.05"/><circle cx="1122.5" cy="26.5" r="6.05"/><circle cx="1123.2" cy="30.5" r="6.05"/><circle cx="1123.8" cy="34.5" r="6.05"/><circle cx="1124.3" cy="38.5" r="6.05"/><circle cx="1124.8" cy="42.5" r="6.05"/><circle cx="1125.2" cy="48.5" r="6.05"/><circle cx="1127.6" cy="58.5" r="6.05"/><circle cx="1129.4" cy="68.5" r="6.05"/><circle cx="1131.5" cy="78.5" r="6.05"/><circle cx="1133.7" cy="88.5" r="6.05"/><circle cx="1135.5" cy="98.5" r="6.05"/><circle cx="1138.5" cy="108.5" r="6.05"/><circle cx="1140.7" cy="118.5" r="6.05"/><circle cx="1145.6" cy="138.5" r="6.05"/><circle cx="1159.5" cy="158.5" r="6.05"/><circle cx="1175.5" cy="178.5" r="6.05"/><circle cx="1186.5" cy="198.5" r="6.05"/><circle cx="1199.6" cy="218.5" r="6.05"/><circle cx="1235.5" cy="268.5" r="6.05"/><circle cx="1277.6" cy="318.5" r="6.05"/><circle cx="1316.6" cy="418.5" r="6.05"/><circle cx="1344.8" cy="518.5" r="6.05"/><circle cx="1369.8" cy="618.5" r="6.05"/><circle cx="1395.0" cy="718.5" r="6.05"/><circle cx="1421.5" cy="818.5" r="6.05"/></g>
<polyline points="1144.6,19.5 1145.0,21.6 1145.4,23.8 1145.9,26.1 1146.3,28.6 1146.8,31.4 1147.4,34.3 1148.0,37.6 1148.7,41.3 1149.5,45.4 1150.4,50.1 1151.4,55.5 1152.5,61.7 1153.9,68.9 1155.5,77.4 1157.3,87.3 1160.6,99.2 1162.5,113.2 1166.7,130.0 1170.7,150.1 1175.5,174.2 1181.6,203.1 1188.3,237.9 1206.4,279.8 1255.5,330.2 1290.4,390.7 1323.5,463.4 1350.8,550.6 1374.6,654.7 1404.3,778.9" fill="none" stroke="#ff00ff" stroke-width="2.8" stroke-linejoin="round"/>
<g fill="#ff00ff"><circle cx="1144.6" cy="19.5" r="6.05"/><circle cx="1145.0" cy="21.6" r="6.05"/><circle cx="1145.4" cy="23.8" r="6.05"/><circle cx="1145.9" cy="26.1" r="6.05"/><circle cx="1146.3" cy="28.6" r="6.05"/><circle cx="1146.8" cy="31.4" r="6.05"/><circle cx="1147.4" cy="34.3" r="6.05"/><circle cx="1148.0" cy="37.6" r="6.05"/><circle cx="1148.7" cy="41.3" r="6.05"/><circle cx="1149.5" cy="45.4" r="6.05"/><circle cx="1150.4" cy="50.1" r="6.05"/><circle cx="1151.4" cy="55.5" r="6.05"/><circle cx="1152.5" cy="61.7" r="6.05"/><circle cx="1153.9" cy="68.9" r="6.05"/><circle cx="1155.5" cy="77.4" r="6.05"/><circle cx="1157.3" cy="87.3" r="6.05"/><circle cx="1160.6" cy="99.2" r="6.05"/><circle cx="1162.5" cy="113.2" r="6.05"/><circle cx="1166.7" cy="130.0" r="6.05"/><circle cx="1170.7" cy="150.1" r="6.05"/><circle cx="1175.5" cy="174.2" r="6.05"/><circle cx="1181.6" cy="203.1" r="6.05"/><circle cx="1188.3" cy="237.9" r="6.05"/><circle cx="1206.4" cy="279.8" r="6.05"/><circle cx="1255.5" cy="330.2" r="6.05"/><circle cx="1290.4" cy="390.7" r="6.05"/><circle cx="1323.5" cy="463.4" r="6.05"/><circle cx="1350.8" cy="550.6" r="6.05"/><circle cx="1374.6" cy="654.7" r="6.05"/><circle cx="1404.3" cy="778.9" r="6.05"/></g>
</g>
<rect x="1072.5" y="19.5" width="402.0" height="794.9" fill="none" stroke="#000" stroke-width="1.35"/>
<path d="M1132.5 814.4v6.1M1224.5 814.4v6.1M1317.5 814.4v6.1M1410.5 814.4v6.1M1072.5 19.5h-6.1M1072.5 68.5h-6.1M1072.5 118.5h-6.1M1072.5 168.5h-6.1M1072.5 218.5h-6.1M1072.5 268.5h-6.1M1072.5 318.5h-6.1M1072.5 368.5h-6.1M1072.5 418.5h-6.1M1072.5 468.5h-6.1M1072.5 518.5h-6.1M1072.5 568.5h-6.1M1072.5 618.5h-6.1M1072.5 668.5h-6.1M1072.5 718.5h-6.1M1072.5 768.5h-6.1" stroke="#000" stroke-width="1.3" fill="none"/>
<g font-size="17.36" text-anchor="middle"><text transform="translate(1131.0,850.2) rotate(-45)" x="0" y="6.3">1025</text><text transform="translate(1223.0,850.2) rotate(-45)" x="0" y="6.3">1026</text><text transform="translate(1316.0,850.2) rotate(-45)" x="0" y="6.3">1027</text><text transform="translate(1409.0,850.2) rotate(-45)" x="0" y="6.3">1028</text></g>
<g font-size="17.36" text-anchor="end"><text x="75.3" y="25.9">0</text><text x="75.3" y="75.9">25</text><text x="75.3" y="125.9">50</text><text x="75.3" y="175.9">75</text><text x="75.3" y="225.9">100</text><text x="75.3" y="275.9">125</text><text x="75.3" y="325.9">150</text><text x="75.3" y="375.9">175</text><text x="75.3" y="425.9">200</text><text x="75.3" y="475.9">225</text><text x="75.3" y="525.9">250</text><text x="75.3" y="575.9">275</text><text x="75.3" y="625.9">300</text><text x="75.3" y="675.9">325</text><text x="75.3" y="725.9">350</text><text x="75.3" y="775.9">375</text></g>
<g font-size="22.57" font-weight="bold" text-anchor="middle">
<text transform="translate(30.3,418.3) rotate(-90)">Depth (m)</text>
<text x="288.4" y="871.7">Temperature (<tspan font-weight="normal" font-style="italic" font-size="15.8" dy="-8.2" dx="1.3">o</tspan><tspan font-weight="normal" font-style="italic" font-size="23" dy="8.2" dx="0.4">C</tspan><tspan dx="0.8">)</tspan></text>
<text x="780.6" y="869.2">Salinity</text>
<text x="1272.3" y="896">Density (kg m-3)</text>
</g>
<text x="323.8" y="918.2" font-size="17.36" font-style="italic" xml:space="preserve">Ocean Heat Content (kJ/cm^2) - Glider: N/A,  RTOFS: N/A,  RTOFS (Parallel): N/A,  ESPC: N/A,  CMEMS: N/A,</text>
<g font-size="22.57" font-weight="bold">
<text x="1523.9" y="36.6">Comparison Date: 2024-12-25</text>
<text x="1523.9" y="89.76">Glider: sp066</text>
<text x="1523.9" y="116.34">Profiles: 3</text>
<text x="1523.9" y="142.92">First: 2024-12-25 03:25:45</text>
<text x="1523.9" y="169.5">Last: 2024-12-25 14:43:15</text>
<text x="1523.9" y="196.08">Method: Nearest-Neighbor</text>
</g>
<defs><clipPath id="cm"><rect x="1563.9" y="274.0" width="402.5999999999999" height="285.20000000000005"/></clipPath></defs>
<rect x="1563.9" y="274.0" width="402.5999999999999" height="285.20000000000005" fill="#97b6e1"/>
<path d="M1681 274.0H1966.5V559.2H1597M1584 559.2H1563.9V517" fill="none" stroke="#000" stroke-width="1.4"/>
<g clip-path="url(#cm)">
<polygon points="1561.9,272.0 1681.4,272.0 1681.4,273.8 1694.5,275.8 1695.6,284.7 1699.0,284.7 1699.5,276.9 1702.3,277.5 1704.0,284.1 1699.0,290.3 1694.5,291.4 1690.1,288.6 1687.8,286.1 1683.4,286.1 1682.3,288.0 1677.3,286.9 1675.0,288.0 1675.6,289.7 1678.9,291.4 1682.3,293.0 1684.5,294.2 1682.8,296.4 1684.5,298.1 1687.8,299.2 1685.0,300.8 1681.1,301.4 1677.8,299.2 1675.3,300.0 1676.1,302.5 1678.9,304.2 1682.3,304.7 1686.7,303.6 1687.8,304.7 1684.5,307.0 1683.9,310.8 1678.4,309.7 1672.8,309.2 1666.7,313.1 1661.7,318.1 1659.6,320.5 1655.6,325.1 1654.4,332.6 1649.6,331.2 1642.4,331.7 1636.9,334.0 1630.5,338.7 1626.5,347.5 1622.3,353.6 1615.1,359.1 1609.6,363.7 1600.5,368.2 1595.0,374.6 1589.6,380.0 1585.0,387.3 1581.4,396.4 1577.7,405.5 1576.4,412.8 1576.4,415.0 1577.7,424.1 1580.5,436.8 1586.8,453.2 1594.1,466.0 1597.1,470.5 1594.3,475.1 1596.9,484.2 1599.0,490.0 1603.2,499.1 1606.9,508.2 1608.2,517.3 1607.3,529.1 1605.5,541.0 1603.2,549.1 1598.7,556.8 1591.4,557.6 1585.0,555.5 1583.2,549.1 1585.0,544.6 1580.5,541.0 1575.9,536.4 1570.5,533.7 1567.7,526.4 1565.9,520.0 1568.6,516.4 1563.5,518.2 1561.9,518.2" fill="#d2b48c"/>
<g fill="#b4b4b4">
<polygon points="1585.0,510.5 1590.0,504.6 1592.3,504.4 1595.0,509.6 1594.6,512.7 1591.9,516.8 1588.7,514.1"/>
<circle cx="1580.4" cy="499.6" r="1.3"/><circle cx="1572.4" cy="468.2" r="1.3"/><circle cx="1580.6" cy="486.2" r="1.4"/><circle cx="1580.4" cy="574" r="1"/>
</g>
<polyline points="1599.6,273.6 1598.7,280.5 1606.0,287.7 1607.8,295.9 1611.9,301.4 1611.4,308.7 1614.1,316.0 1618.7,324.1 1620.5,330.5 1627.8,337.8 1629.6,340.5 1626.9,345.1" fill="none" stroke="#97b6e1" stroke-width="1.75" stroke-linejoin="round" stroke-linecap="round"/>
<polyline points="1623.2,273.6 1630.5,285.9 1637.8,293.2 1634.6,299.6 1636.0,307.8 1645.1,315.0 1653.3,319.6 1654.6,324.1" fill="none" stroke="#97b6e1" stroke-width="1.75" stroke-linejoin="round" stroke-linecap="round"/>
<polyline points="1563.6,294.1 1573.2,296.8 1576.8,308.7 1579.6,319.6 1585.9,328.7 1594.1,335.1 1600.5,342.3 1606.0,343.3 1618.7,347.8 1624.2,350.0" fill="none" stroke="#97b6e1" stroke-width="1.75" stroke-linejoin="round" stroke-linecap="round"/>
<polyline points="1606.0,343.3 1609.6,350.0" fill="none" stroke="#97b6e1" stroke-width="1.75" stroke-linejoin="round" stroke-linecap="round"/>
<polyline points="1597.8,340.0 1604.1,343.6 1609.6,351.8 1611.4,357.3" fill="none" stroke="#97b6e1" stroke-width="1.75" stroke-linejoin="round" stroke-linecap="round"/>
<polyline points="1607.8,341.8 1616.9,346.4 1624.2,350.0" fill="none" stroke="#97b6e1" stroke-width="1.75" stroke-linejoin="round" stroke-linecap="round"/>
<polyline points="1563.6,386.4 1569.6,391.0 1575.0,398.2" fill="none" stroke="#97b6e1" stroke-width="1.75" stroke-linejoin="round" stroke-linecap="round"/>
<polyline points="1572.3,425.0 1577.3,422.3" fill="none" stroke="#97b6e1" stroke-width="1.75" stroke-linejoin="round" stroke-linecap="round"/>
<polyline points="1577.3,422.7 1571.8,425.0 1572.3,433.2 1574.1,438.7 1570.9,444.1 1572.3,451.4 1578.7,458.7 1579.6,462.3 1585.0,464.1 1589.6,473.2 1591.4,481.4 1588.7,482.8 1584.6,478.7" fill="none" stroke="#97b6e1" stroke-width="1.75" stroke-linejoin="round" stroke-linecap="round"/>
<polygon points="1670.6,274.1 1673.4,274.1 1676.7,276.3 1681.1,276.9 1683.4,276.3 1682.3,278.6 1678.4,279.7 1675.0,278.0" fill="#97b6e1"/>
<polyline points="1563.2,296.4 1585.0,297.0 1588.7,299.1 1591.4,303.2 1591.4,306.4 1616.9,307.0 1640.5,331.4" fill="none" stroke="#000" stroke-width="1.3" stroke-linejoin="round"/>
<polyline points="1563.6,340.1 1569.6,350.0" fill="none" stroke="#000" stroke-width="1.3" stroke-linejoin="round"/>
<polyline points="1564.1,340.0 1569.6,349.1 1575.0,354.6 1577.7,362.7 1582.3,370.0 1585.0,377.3 1589.1,380.0" fill="none" stroke="#000" stroke-width="1.3" stroke-linejoin="round"/>
<polyline points="1563.6,412.3 1570.5,413.7 1576.4,415.1" fill="none" stroke="#000" stroke-width="1.3" stroke-linejoin="round"/>
<polyline points="1707.9,274.6 1710.1,280.8 1710.9,286.4 1710.1,291.9 1709.0,295.8 1704.5,295.3 1699.0,298.1 1694.5,301.9 1691.2,307.0 1687.8,311.4 1686.2,313.1" fill="none" stroke="#000" stroke-linejoin="round" stroke-linecap="round" stroke-width="2.6"/>
<polyline points="1686.2,313.1 1683.9,310.8 1678.4,309.7 1672.8,309.2 1666.7,313.1 1661.7,318.1 1659.6,320.5 1655.6,325.1 1654.4,332.6 1649.6,331.2 1642.4,331.7 1636.9,334.0 1630.5,338.7 1626.5,347.5 1622.3,353.6 1615.1,359.1 1609.6,363.7 1600.5,368.2 1595.0,374.6 1589.6,380.0 1585.0,387.3 1581.4,396.4 1577.7,405.5 1576.4,412.8 1576.4,415.0 1577.7,424.1 1580.5,436.8 1586.8,453.2 1594.1,466.0 1597.1,470.5 1594.3,475.1 1596.9,484.2 1599.0,490.0 1603.2,499.1 1606.9,508.2 1608.2,517.3 1607.3,529.1 1605.5,541.0 1603.2,549.1 1598.7,556.8 1591.4,557.6 1585.0,555.5 1583.2,549.1 1585.0,544.6 1580.5,541.0 1575.9,536.4 1570.5,533.7 1567.7,526.4 1565.9,520.0 1568.6,516.4" fill="none" stroke="#000" stroke-linejoin="round" stroke-linecap="round" stroke-width="2.3"/>
<polyline points="1575.9,536.4 1570.5,533.7 1567.7,526.4 1565.9,520.0 1568.6,516.4 1563.5,518.2" fill="none" stroke="#000" stroke-linejoin="round" stroke-linecap="round" stroke-width="2.6"/>
<path d="M1681.4 274.6H1709" stroke="#000" stroke-width="2.2"/>
<g fill="#000">
<polygon points="1675.0,288.0 1677.3,286.8 1682.3,287.9 1683.4,285.9 1687.8,285.9 1690.3,288.5 1694.5,290.7 1699.0,289.0 1703.7,284.2 1705.1,286.1 1699.2,292.0 1693.4,293.7 1688.9,294.3 1687.8,297.0 1684.5,298.2 1682.7,296.4 1684.4,294.2 1682.3,293.2 1678.9,291.5 1675.6,289.8"/>
<polygon points="1675.2,300.0 1677.8,299.1 1681.1,301.3 1685.0,300.7 1687.8,299.1 1693.4,301.3 1694.5,301.9 1691.2,307.0 1687.8,311.4 1686.2,313.2 1683.8,311.0 1678.4,309.8 1683.9,308.1 1687.8,304.8 1686.7,303.7 1682.3,304.8 1678.9,304.3 1676.1,302.6"/>
<polygon points="1695.4,274.6 1699.1,274.6 1699.0,284.5 1697.0,285.0 1695.6,284.2"/>
<polygon points="1681.4,273.8 1707.9,273.8 1708.4,276.3 1704.5,279.7 1702.3,277.3 1699.0,276.9 1694.5,275.9 1687.8,276.3 1683.4,276.3"/>
</g>
<polygon points="1699.8,277.5 1702.0,277.7 1703.1,280.8 1702.3,283.6 1700.1,283.0" fill="#d2b48c"/>
<polyline points="1590.5,368.2 1592.3,373.7 1597.8,370.0 1600.5,367.3" fill="none" stroke="#000" stroke-linejoin="round" stroke-linecap="round" stroke-width="2.2"/>
<polyline points="1611.4,359.6 1618.7,354.6 1625.1,347.3" fill="none" stroke="#000" stroke-linejoin="round" stroke-linecap="round" stroke-width="3.2"/>
<polyline points="1584.1,382.8 1580.9,389.1 1579.1,398.2 1576.4,405.5 1576.4,412.8" fill="none" stroke="#000" stroke-linejoin="round" stroke-linecap="round" stroke-width="4.2"/>
<polyline points="1573.2,402.3 1575.5,405.5" fill="none" stroke="#000" stroke-linejoin="round" stroke-linecap="round" stroke-width="2.5"/>
<polyline points="1590.9,467.8 1594.1,474.1 1596.4,471.9" fill="none" stroke="#000" stroke-linejoin="round" stroke-linecap="round" stroke-width="3"/>
<polyline points="1595.0,478.7 1602.3,498.7" fill="none" stroke="#000" stroke-linejoin="round" stroke-linecap="round" stroke-width="3.2"/>
<polyline points="1600.5,491.8 1606.0,505.5 1608.2,517.3 1607.3,529.1" fill="none" stroke="#000" stroke-linejoin="round" stroke-linecap="round" stroke-width="2.8"/>
<polyline points="1606.0,541.0 1603.2,549.1 1598.7,556.9 1591.4,557.8 1585.0,555.1 1583.4,549.1" fill="none" stroke="#000" stroke-linejoin="round" stroke-linecap="round" stroke-width="4.6"/>
<polyline points="1585.0,544.6 1580.5,541.0 1575.9,536.4 1570.5,533.7 1567.7,526.4 1565.9,520.0 1568.6,516.4" fill="none" stroke="#000" stroke-linejoin="round" stroke-linecap="round" stroke-width="3.2"/>
<polyline points="1630.5,515.5 1636.9,521.1 1642.8,518.4 1655.5,516.2" fill="none" stroke="#000" stroke-linejoin="round" stroke-linecap="round" stroke-width="3.9"/>
<polyline points="1640.5,512.7 1641.4,517.3" fill="none" stroke="#000" stroke-linejoin="round" stroke-linecap="round" stroke-width="4"/>
<polyline points="1643.7,501.8 1649.6,505.5 1655.1,508.2" fill="none" stroke="#000" stroke-linejoin="round" stroke-linecap="round" stroke-width="2"/>
<polyline points="1648.7,509.6 1649.2,508.2" fill="none" stroke="#000" stroke-linejoin="round" stroke-linecap="round" stroke-width="2.6"/>
<polyline points="1655.1,511.8 1664.2,511.4 1672.4,517.3 1676.5,521.1 1674.4,526.4 1671.3,530.0 1669.2,534.6 1671.5,537.5" fill="none" stroke="#000" stroke-linejoin="round" stroke-linecap="round" stroke-width="5.2"/>
<polyline points="1656.0,517.3 1657.4,520.0" fill="none" stroke="#000" stroke-linejoin="round" stroke-linecap="round" stroke-width="3"/>
<polyline points="1662.8,526.4 1663.3,527.5" fill="none" stroke="#000" stroke-linejoin="round" stroke-linecap="round" stroke-width="3"/>
<polyline points="1663.7,531.4 1663.9,532.0" fill="none" stroke="#000" stroke-linejoin="round" stroke-linecap="round" stroke-width="2"/>
<polyline points="1625.5,539.6 1624.6,543.2" fill="none" stroke="#000" stroke-linejoin="round" stroke-linecap="round" stroke-width="3"/>
<polyline points="1626.4,548.2 1627.8,552.3" fill="none" stroke="#000" stroke-linejoin="round" stroke-linecap="round" stroke-width="1.4" stroke-dasharray="1 2.4"/>
<polyline points="1628.7,533.7 1629.6,532.8" fill="none" stroke="#000" stroke-linejoin="round" stroke-linecap="round" stroke-width="1" stroke-opacity=".6"/>
<polyline points="1649.6,551.0 1648.7,555.1 1652.4,558.2" fill="none" stroke="#000" stroke-linejoin="round" stroke-linecap="round" stroke-width="4"/>
<polyline points="1655.1,537.8 1659.6,543.7 1656.9,548.2" fill="none" stroke="#000" stroke-linejoin="round" stroke-linecap="round" stroke-width="3.4"/>
<polyline points="1663.3,557.8 1673.3,554.8 1680.6,545.5 1684.2,545.7 1696.0,555.5 1695.6,558.2" fill="none" stroke="#000" stroke-linejoin="round" stroke-linecap="round" stroke-width="2.8"/>
<circle cx="1648.6" cy="520.5" r="0.9" fill="#d2b48c"/><circle cx="1660.5" cy="528" r="0.9" fill="#d2b48c"/><circle cx="1652.2" cy="557.5" r="1.1" fill="#d2b48c"/><circle cx="1673" cy="524" r="0.9" fill="#d2b48c"/>
<polyline points="1945.8,373.2 1947.5,373.2 1949.5,371.8 1950.8,370.6" fill="none" stroke="#000" stroke-linejoin="round" stroke-linecap="round" stroke-width="1.8"/>
<circle cx="1720.9" cy="369.7" r="5.2" fill="#000"/><circle cx="1720.0" cy="370.8" r="5.2" fill="#000"/><circle cx="1720.6" cy="365.3" r="0.8" fill="#e8e8e8"/><circle cx="1722.4" cy="367.6" r="0.9" fill="#9a9a9a"/><circle cx="1718.5" cy="372.4" r="4.45" fill="#ff0000" stroke="#000" stroke-width="1.7"/>
</g>
<path d="M1587.5 274.0v-8.6M1587.5 559.2v8.6M1654.2 274.0v-8.6M1654.2 559.2v8.6M1720.9 274.0v-8.6M1720.9 559.2v8.6M1787.6 274.0v-8.6M1787.6 559.2v8.6M1854.3 274.0v-8.6M1854.3 559.2v8.6M1921.0 274.0v-8.6M1921.0 559.2v8.6M1563.9 509.7h-8.6M1966.5 509.7h8.6M1563.9 433.8h-8.6M1966.5 433.8h8.6M1563.9 355.5h-8.6M1966.5 355.5h8.6M1563.9 274.6h-8.6M1966.5 274.6h8.6" stroke="#000" stroke-width="2.8" fill="none"/>
<path d="M1565.3 274.0v-2.9M1565.3 559.2v2.9M1609.7 274.0v-2.9M1609.7 559.2v2.9M1632.0 274.0v-2.9M1632.0 559.2v2.9M1676.4 274.0v-2.9M1676.4 559.2v2.9M1698.7 274.0v-2.9M1698.7 559.2v2.9M1743.1 274.0v-2.9M1743.1 559.2v2.9M1765.4 274.0v-2.9M1765.4 559.2v2.9M1809.8 274.0v-2.9M1809.8 559.2v2.9M1832.1 274.0v-2.9M1832.1 559.2v2.9M1876.6 274.0v-2.9M1876.6 559.2v2.9M1898.8 274.0v-2.9M1898.8 559.2v2.9M1943.3 274.0v-2.9M1943.3 559.2v2.9M1965.5 274.0v-2.9M1965.5 559.2v2.9M1563.9 559.2h-2.9M1966.5 559.2h2.9M1563.9 534.5h-2.9M1966.5 534.5h2.9M1563.9 484.6h-2.9M1966.5 484.6h2.9M1563.9 459.3h-2.9M1966.5 459.3h2.9M1563.9 408.0h-2.9M1966.5 408.0h2.9M1563.9 381.9h-2.9M1966.5 381.9h2.9M1563.9 328.8h-2.9M1966.5 328.8h2.9M1563.9 301.9h-2.9M1966.5 301.9h2.9" stroke="#000" stroke-width="1.45" fill="none"/>
<g font-size="22.57">
<text x="1549.6" y="283.9" text-anchor="end">36°N</text>
<text x="1549.6" y="364.8" text-anchor="end">33°N</text>
<text x="1549.6" y="443.1" text-anchor="end">30°N</text>
<text x="1549.6" y="519.0" text-anchor="end">27°N</text>
<text transform="translate(1585.6,604.3) rotate(-45)" text-anchor="middle" y="8">81°W</text>
<text transform="translate(1652.3,604.3) rotate(-45)" text-anchor="middle" y="8">78°W</text>
<text transform="translate(1719.0,604.3) rotate(-45)" text-anchor="middle" y="8">75°W</text>
<text transform="translate(1785.7,604.3) rotate(-45)" text-anchor="middle" y="8">72°W</text>
<text transform="translate(1852.4,604.3) rotate(-45)" text-anchor="middle" y="8">69°W</text>
<text transform="translate(1919.1,604.3) rotate(-45)" text-anchor="middle" y="8">66°W</text>
</g>
<rect x="1634.7" y="635.8" width="261.1" height="179.3" rx="3.6" fill="#fff" fill-opacity=".8" stroke="#ccc" stroke-width="1.4"/>
<path d="M1643.4 655.4H1691.1" stroke="#0000ff" stroke-width="2.8"/><circle cx="1666.5" cy="655.4" r="5.9" fill="#0000ff"/>
<text x="1707.2" y="663.7" font-size="22.57">sp066</text>
<path d="M1643.4 690.4H1691.1" stroke="#ff0000" stroke-width="2.8"/><circle cx="1666.5" cy="690.4" r="5.9" fill="#ff0000"/>
<text x="1707.2" y="698.7" font-size="22.57">RTOFS</text>
<path d="M1643.4 724.8H1691.1" stroke="#ffa500" stroke-width="2.8"/><circle cx="1666.5" cy="724.8" r="5.9" fill="#ffa500"/>
<text x="1707.2" y="733.1" font-size="22.57">RTOFS (Parallel)</text>
<path d="M1643.4 758.6H1691.1" stroke="#008000" stroke-width="2.8"/><circle cx="1666.5" cy="758.6" r="5.9" fill="#008000"/>
<text x="1707.2" y="766.9" font-size="22.57">ESPC</text>
<path d="M1643.4 793.1H1691.1" stroke="#ff00ff" stroke-width="2.8"/><circle cx="1666.5" cy="793.1" r="5.9" fill="#ff00ff"/>
<text x="1707.2" y="801.4" font-size="22.57">CMEMS</text>
</svg>
</body></html>
